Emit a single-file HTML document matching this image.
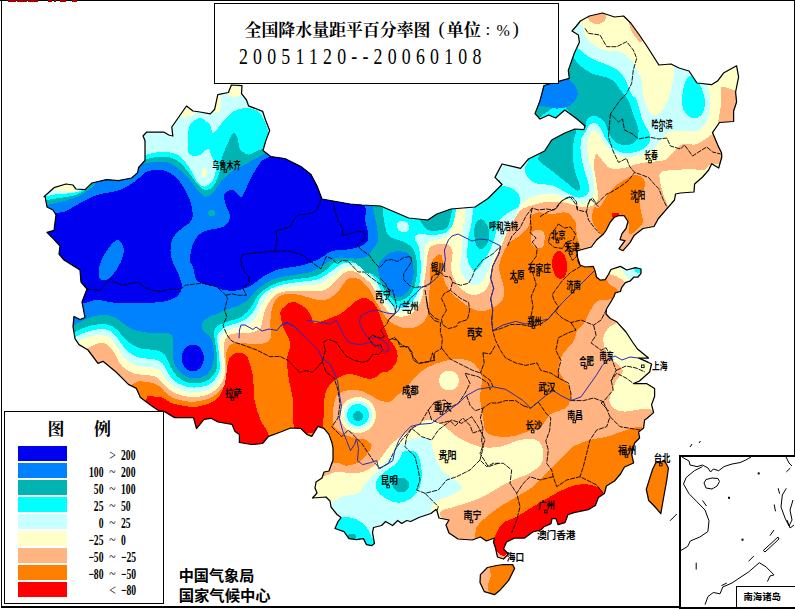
<!DOCTYPE html>
<html><head><meta charset="utf-8"><title>map</title>
<style>html,body{margin:0;padding:0;background:#fff}body{width:795px;height:610px;position:relative;overflow:hidden;font-family:"Liberation Sans",sans-serif}</style>
</head><body><svg width="795" height="610" viewBox="0 0 795 610" style="position:absolute;left:0;top:0"><defs><clipPath id="cn"><path d="M44 196.7L54 187.7L66 184L73 185L76 189L85 189.7L92 183L106.4 179.6L118.5 180.6L131.6 178L137.6 172.6L138.6 167.5L145 160.5L145 140.4L143 136L146.7 132L163.8 132L168.8 135L172.8 136L171.8 127L180.9 114L186.5 106L193 111L200 112L210.3 113.9L214.7 109.2L217.8 94.6L228.4 92.5L231.4 85L242 85.7L241.5 93.7L246.5 100L248.5 105.8L262.6 111.3L265.6 120.3L269.7 130.4L265.6 141.4L263 150.5L270.7 156.5L284.8 158.5L300.9 166.6L311 174.6L317 186L322 199L350 204L362 205L380.5 206L394.6 212L408.7 218L427.8 220L436.9 214L451 209L475 207L488 198.5L502 184.5L495 177.4L502 164L520.5 168.4L528.5 159L544.6 151L551.7 140L564.8 133L574.8 129L584 129.7L585 126L577 119L564.8 110L555.7 118L548.7 115L540 119L535 113.6L540 100.6L544 85.5L562 80.4L569.3 78.4L568.3 70.4L574.3 53.3L579.4 42.2L578.4 35L572 31L576.4 26L580.4 21L589.4 16L602.5 13L614.6 17L623.6 16L630.7 23L638.7 34L646.8 46L658.9 65L671 64L679 68L689 71L697 83L711.5 84.7L717.5 81L723.5 73L736.6 65.8L738.6 77L735.6 92L736.6 102L733.6 111L733.6 121.5L719.5 122.5L712.5 132.6L717.5 144.6L721.5 152.7L721.8 157L718.7 168L711.7 163.7L708.7 170L702.6 177L694.6 184L694 192L680.5 193L675.5 194L674.5 200L666.4 209.4L658.4 218.5L654 226.5L643 228.5L634 235.6L630 242.6L623 250.7L619 248.7L625 240.6L620 239.6L622 233.6L626 228.5L628 221.5L624 215.5L619 215.5L614 217.5L610 222.5L606 230.5L603.5 234L596.5 240L591.4 247L580.4 250L577 251L577.6 257.5L580 265L585 267L593.3 266.4L595.2 271.4L596.5 277L600.3 280.2L605.3 279.6L608.4 274.5L611 269.5L616.6 267.6L620.4 266.4L626.7 270L635.5 267.6L641 269L641 273.3L638 277L634 277L630.4 280.8L625.4 282.7L621.6 287.7L620.4 291.5L615.3 292.8L614 296.5L610.3 302.8L606.5 309L606 314L610.3 318.5L616.6 321.7L626 332L632.5 342L637.5 349L648.5 358L638.5 358L651.6 364L649.6 372L639.5 381L633.5 383.5L646.5 383.5L654.6 388.5L654.6 396.5L651.6 404.6L653.6 412.6L646.5 418.7L644.6 420L643.6 428L638.6 432L639.6 438L634.6 443L631.6 454L633.6 463L624.5 467L620.5 474L614.5 481L606.4 486L604.4 493.5L598.4 497.5L595.3 505.5L588.3 509.6L574 512.6L568 514.6L565 522.6L558 524.6L556 518.6L552 518.6L551 523.6L544 526.7L540.7 530L532.7 532L524.6 538L514.6 538L506.5 542L503.5 549L508.5 554L503.5 559L497.5 557L495.5 548L493.5 542L494.5 538L486.4 541L480.4 537L472.3 540L458 539L449 533L446 525L449 520L439 518L437 511L435.9 509.4L430.9 513.5L418.8 517.5L410.7 521.5L406.7 520.5L401.7 523.5L397.7 520.5L392.6 525.5L385.6 521.5L381.6 525.5L373.5 527.5L372.5 532.6L374.5 543.6L371.5 545.7L366.5 544.6L363.5 538.6L356.4 539.6L349 538.6L344 531.6L335 528.5L338 521.5L341 517.5L337 514.5L331 507L330 501L326 497L312.5 498L317 493L315 488L316 482L322 478L324 472L329 471L333 460L333 448L331.9 442.5L328.9 434.4L323.9 428.4L317.9 426.4L311.8 436.4L306.8 434.4L300.7 428.4L290.7 428L280.6 432L268.6 436.4L262.5 443.5L251.4 444.5L239.4 442.5L239.4 434.4L235 431.4L232 424.3L218 422L211 418.3L204 419.3L196.5 428.5L193.5 417.5L174.6 417.6L164.6 411.6L158.5 410.6L152.5 406.5L140.4 397.5L136.4 388.4L128.4 384.4L116.3 372.3L103 361.3L98 363.3L88 350L79 344.6L75 338.6L73 326.5L74 316.5L80 319.5L85 317.5L82 302L87 289L81 282L80 270L64 260L59 254L60 246L53 238.4L47 232.4L54 230.4L56 215L53 210L47 207L45 196ZM655.7 463L664.8 461L668.4 468L666.8 480L663.8 496.5L660.8 513.6L654.7 506.5L648.7 500.5L646.3 489.4L649.7 478.4L652.7 469ZM503.5 564.5L512.6 564.5L514.6 568.5L508.5 580.6L500.5 589.7L494.5 594.7L484.4 591.7L480 582.6L480.4 574.6L487.4 567.5L496.5 565.5Z"/></clipPath></defs><g clip-path="url(#cn)" shape-rendering="crispEdges"><rect x="0" y="0" width="795" height="610" fill="#ff8000"/><path fill="#ffb482" d="M120 392C138.4 390.4 127.3 387.2 130.4 385.5C133.5 383.8 135.1 382 138.4 381.5C141.8 381 147.2 381.8 150.5 382.5C153.8 383.2 156.2 384 158.5 385.5C160.8 387 162.2 389.6 164.6 391.6C166.9 393.6 169.6 396.1 172.6 397.6C175.6 399.1 178.8 399.9 182.7 400.6C186.6 401.3 190.8 402.3 195.8 401.6C200.8 400.9 207.9 399.8 212.9 396.6C217.9 393.4 223.7 387.8 226 382.5C228.3 377.2 226.5 369.6 226.5 365C226.5 360.4 225.8 357.9 226 355C226.2 352.1 226.8 349.2 228 347.3C229.2 345.4 230.1 344 233 343.3C235.9 342.6 240.6 343.1 245.2 343.3C249.8 343.5 256.3 344.8 260.3 344.3C264.3 343.8 267.6 342.2 269.3 340.3C271.1 338.4 270.6 336.1 270.8 333.2C271 330.3 270.2 326.9 270.3 323.2C270.4 319.5 270.7 314.5 271.4 311C272.1 307.5 273.1 304.4 274.4 302C275.7 299.6 277.1 297.9 279.4 296.5C281.7 295.1 284.3 294 288 293.8C291.7 293.6 297.2 294.4 301.5 295.3C305.8 296.2 309.6 298.2 313.6 299C317.6 299.8 321.9 300.7 325.7 299.8C329.5 298.9 333.5 296.1 336.2 293.8C338.9 291.5 340 288.5 342 286C344 283.5 345.7 280.3 348 279C350.3 277.7 353.5 277.5 356 278C358.5 278.5 360.7 280 363 282C365.3 284 368 287 370 290C372 293 373.2 296.7 375 300C376.8 303.3 378.8 306.7 381 310C383.2 313.3 385.5 317.4 388 320C390.5 322.6 393 323.9 396 325.3C399 326.7 403 328 406.2 328.3C409.4 328.6 412.4 328.3 415.3 327.3C418.2 326.3 421.3 324.3 423.3 322.3C425.3 320.3 426.4 318.1 427.4 315.2C428.4 312.3 429.1 308.7 429.4 305C429.7 301.3 429.3 297.2 429.4 293C429.5 288.8 429.8 284.2 430 280C430.2 275.8 429.7 271.8 430.5 268C431.3 264.2 433.1 259 435 257C436.9 255 440.7 252.7 442 256C443.3 259.3 441.7 271.2 443 277C444.3 282.8 446.8 286.8 450 291C453.2 295.2 458.2 299 462 302C465.8 305 469.3 307.5 473 309C476.7 310.5 480.2 311.5 484 311C487.8 310.5 492.8 308 496 306C499.2 304 501.7 302 503 299C504.3 296 504.3 291.7 504 288C503.7 284.3 501.8 280.5 501 277C500.2 273.5 498.8 270.5 499 267C499.2 263.5 500.6 259.7 502 256C503.4 252.3 505.7 247.7 507.5 245C509.3 242.3 511.1 241.4 513 240C514.9 238.6 517 237.9 519 236.4C521 234.9 523.3 232.9 525 231C526.7 229.1 527.9 227.5 529 225C530.1 222.5 529.9 218.1 531.4 216C532.9 213.9 535.7 213 538 212.5C540.3 212 542.5 212.8 545 213C547.5 213.2 550.3 214.1 553 214C555.7 213.9 558.5 212.8 561 212.6C563.5 212.4 566.2 212.3 568 213C569.8 213.7 570.8 215.4 572 217C573.2 218.6 574.7 219.7 575.5 222.5C576.3 225.3 575.9 229.8 576.7 234C577.5 238.2 579.5 244.9 580.5 247.7C581.5 250.5 581.4 249.6 583 251C584.6 252.4 580.5 255.3 590 256C599.5 256.7 608.3 255.2 640 255C671.7 254.8 756.7 300.8 780 255C803.3 209.2 906.7 25.8 780 -20C653.3 -65.8 146.7 -89.2 20 -20C-106.7 49.2 3.3 326.3 20 395C36.7 463.7 101.6 393.6 120 392Z"/><path fill="#ff8000" d="M594 208C592.7 210.2 591.5 216.5 592 220C592.5 223.5 595 226.3 597 229C599 231.7 601.5 236.2 604 236C606.5 235.8 609.7 231.3 612 228C614.3 224.7 615.7 217.7 618 216C620.3 214.3 624.2 216.3 626 218C627.8 219.7 628.4 223.3 629 226C629.6 228.7 628.4 233.3 629.7 234C631 234.7 634.5 232 636.7 230C638.9 228 642.1 225.3 642.8 222C643.5 218.7 641.2 214.2 640.7 210C640.2 205.8 639.3 201 640 197C640.7 193 644.5 189.2 645 186C645.5 182.8 644.7 179.8 643 178C641.3 176.2 638.2 174.7 635 175C631.8 175.3 628.2 177.3 624 180C619.8 182.7 614 186.5 610 191C606 195.5 602.7 204.2 600 207C597.3 209.8 595.3 205.8 594 208Z"/><path fill="#ffb482" d="M606 279L610.3 285.2L615.3 287.7L619 291L625 295L650 295L650 255L606 255Z"/><path fill="#ffb482" d="M625 303C615.3 302.8 614.9 299.4 612 299C609.1 298.6 609.5 300.2 607.8 300.3C606 300.4 603.6 299.3 601.5 299.7C599.4 300.1 596.9 301.2 595.2 302.8C593.5 304.4 592.6 306.9 591.4 309C590.1 311.1 588.8 313.3 587.7 315.4C586.6 317.5 586.3 319.6 585 321.7C583.7 323.8 581.3 326.4 580 328C578.7 329.6 578.2 328.7 577 331C575.8 333.3 575.3 338.2 573 342C570.7 345.8 565.4 350 563 354C560.6 358 558.7 362.3 558.5 366C558.3 369.7 559.9 372.7 561.6 376C563.3 379.3 567.1 382.7 568.6 386C570.1 389.3 570.9 392.5 570.6 396C570.3 399.5 569.9 404.2 567 407C564.1 409.8 556.2 411.3 553 413C549.8 414.7 550.2 414.7 548 417C545.8 419.3 544.2 424.3 540 427C535.8 429.7 528.5 431.3 523 433C517.5 434.7 513 437 507 437C501 437 491 436.3 487 433C483 429.7 484.2 423 483 417C481.8 411 480.2 403.7 480 397C479.8 390.3 483.2 382.7 482 377C480.8 371.3 476.7 366 473 363C469.3 360 464.7 359.3 460 359C455.3 358.7 450.3 359.7 445 361C439.7 362.3 433 364.3 428 367C423 369.7 418.8 373.2 415 377C411.2 380.8 407.7 387.2 405 390C402.3 392.8 401.5 392 398.8 394C396.1 396 392.4 401.2 388.7 402C385 402.8 380.7 400.7 376.7 399C372.7 397.3 369 393.5 364.6 392C360.2 390.5 354.9 389.7 350.5 390C346.1 390.3 341.1 392 338.4 394C335.7 396 335.3 398.5 334.4 402C333.5 405.5 333 410.9 333 415C333 419.1 332.5 423.1 334.4 426.4C336.3 429.6 340.8 432.5 344.5 434.5C348.2 436.5 353.1 437.7 356.5 438.5C359.9 439.3 362.1 438.3 364.6 439.5C367.1 440.7 371.3 443 371.6 445.5C371.9 448 368.8 451.8 366.6 454.6C364.4 457.5 361.9 460.8 358.5 462.6C355.1 464.5 350.2 465.7 346.5 465.7C342.8 465.7 339.5 462.6 336.4 462.6C333.3 462.7 334.1 463.1 328 466C321.9 468.9 304.7 464.3 300 480C295.3 495.7 271.7 546.7 300 560C328.3 573.3 440.8 563.8 470 560C499.2 556.2 473.9 542.5 475 537C476.1 531.5 474.8 530.1 476.7 526.7C478.6 523.3 482.8 520 486.7 516.7C490.6 513.4 495 510 500 506.7C505 503.4 511.2 500 516.7 496.7C522.2 493.4 528 490.6 533 486.7C538 482.8 542.2 477.4 546.7 473C551.2 468.6 555.6 464.4 560 460C564.4 455.6 568 450 573 446.7C578 443.4 584.4 441.7 590 440C595.6 438.3 600.6 438.4 606.7 436.7C612.8 435 621.2 431.7 626.7 430C632.2 428.3 634.5 427.5 640 426.7C645.5 425.9 655 446.1 660 425C665 403.9 675.8 320.3 670 300C664.2 279.7 634.7 303.2 625 303Z"/><path fill="#ffb482" d="M532.5 232C533.7 230.7 536.1 229.9 538 230C539.9 230.1 542.9 230.8 544 232.5C545.1 234.2 544.7 237.6 544.5 240C544.3 242.4 544.2 245.7 543 247C541.8 248.3 538.8 248.3 537 248C535.2 247.7 533 246.7 532 245C531 243.3 530.9 240.2 531 238C531.1 235.8 531.3 233.3 532.5 232Z"/><path fill="#ffb482" d="M476 565L489 565L491 575L488 585L489 596L476 596Z"/><path fill="#ffb482" d="M497 552L507 553L507 560L497 560Z"/><path fill="#ffffc8" d="M82 352C93.3 351.7 85 349.5 88 348C91 346.5 96.7 343.5 100 343C103.3 342.5 105.6 343.3 108 345C110.4 346.7 111.9 349.4 114.3 353C116.7 356.6 118.9 363 122.3 366.4C125.7 369.8 129.7 372 134.4 373.5C139.1 375 146.5 374.7 150.5 375.5C154.5 376.3 156.2 376.8 158.5 378.5C160.8 380.2 162.2 383.3 164.6 385.5C166.9 387.7 169.6 389.9 172.6 391.6C175.6 393.3 178.8 394.7 182.7 395.6C186.6 396.5 190.9 397.5 195.8 397C200.7 396.5 207.2 395.7 211.9 392.6C216.6 389.5 221.9 384.2 224 378.5C226.1 372.8 224.5 363.9 224.5 358.4C224.5 352.9 223.8 348.6 224 345.3C224.2 342 224.8 340.2 226 338.3C227.2 336.4 228.5 335.1 231 334.2C233.5 333.3 237.3 333.5 241 333.2C244.7 332.9 250 333 253.2 332.2C256.4 331.4 258.8 330 260.3 328.2C261.8 326.4 261.6 323.7 262.3 321.2C263 318.7 263.5 315.7 264.3 313C265.1 310.3 266 307.5 267.3 305C268.6 302.5 270.8 299.8 272.4 298C274 296.2 274.4 295.2 277 294C279.6 292.8 283.4 291.3 288 290.8C292.6 290.3 298.7 290.8 304.5 290.8C310.3 290.8 317.8 292.1 322.6 290.8C327.4 289.5 330.3 285.7 333.2 283.2C336.1 280.7 337.7 277.9 340 276C342.3 274.1 344.3 272.2 347 271.5C349.7 270.8 353.3 271.1 356 272C358.7 272.9 360.3 274.8 363 277C365.7 279.2 369.7 281.8 372 285C374.3 288.2 375.2 292.7 377 296C378.8 299.3 380.8 302.2 383 305C385.2 307.8 387.1 311.1 390 313C392.9 314.9 396.6 316.5 400.2 316.7C403.8 316.9 408.3 315.8 411.3 314C414.3 312.2 416.5 308.8 418.3 306C420.1 303.2 421.4 300.3 422.3 297C423.2 293.7 423.4 289.5 423.8 286C424.2 282.5 424.6 279.3 425 276C425.4 272.7 426 270 426.5 266C427 262 427.1 255.3 428 252C428.9 248.7 430 247.3 432 246C434 244.7 437.3 244.2 440 244C442.7 243.8 445.9 243.7 448 245C450.1 246.3 452 248.3 452.5 252C453 255.7 450.8 262.5 451 267C451.2 271.5 452.1 275.2 454 279C455.9 282.8 459.2 287.1 462.3 289.8C465.4 292.5 469.3 294.6 472.8 295C476.3 295.4 480.6 293.9 483.4 292C486.2 290.1 488.1 287 489.4 283.8C490.7 280.6 490.2 276.8 491 273C491.8 269.2 492.5 265 494 261C495.5 257 498.4 252.5 500 249C501.6 245.5 502.5 243.2 503.8 240C505.1 236.8 506.3 233.3 508 230C509.7 226.7 511.8 223.3 514 220C516.2 216.7 517.6 212.6 521 210C524.4 207.4 530 206 534.6 204.6C539.2 203.2 543.7 201.9 548.7 201.6C553.7 201.3 559.4 201.7 564.8 202.6C570.2 203.5 576.4 206.4 580.9 207C585.4 207.6 589.1 207.3 592 206C594.9 204.7 597 201.2 598 199C599 196.8 598.3 196.2 598 193C597.7 189.8 596.7 184.5 596 180C595.3 175.5 594 170.3 594 166C594 161.7 594.7 155 596 154C597.3 153 599.7 157.7 602 160C604.3 162.3 606.3 166.7 610 168C613.7 169.3 619.5 168.7 624 168C628.5 167.3 632.8 165 637 164C641.2 163 644.3 162.7 649 162C653.7 161.3 661 161.7 665 160C669 158.3 670 154.7 673 152C676 149.3 679.3 145.2 683 144C686.7 142.8 691.7 145.2 695 144.6C698.3 144 700.2 142.3 703 140.6C705.8 138.9 709.3 136.4 711.5 134.6C713.7 132.8 712.9 131.1 716 130C719.1 128.9 717.7 128.3 730 128C742.3 127.7 780 152.7 790 128C800 103.3 918.3 4.7 790 -20C661.7 -44.7 148.3 -81.7 20 -20C-108.3 41.7 9.7 288 20 350C30.3 412 70.7 352.3 82 352Z"/><path fill="#ffffc8" d="M661 172C663.7 170.2 671 170.5 676 170C681 169.5 686.3 169 691 169C695.7 169 700.5 170.8 704 170C707.5 169.2 708.5 164 712 164C715.5 164 727 164 725 170C723 176 708.3 193 700 200C691.7 207 680.3 211 675 212C669.7 213 670 209.2 668 206C666 202.8 664.3 197.2 663 193C661.7 188.8 660.3 184.5 660 181C659.7 177.5 658.3 173.8 661 172Z"/><path fill="#ffffc8" d="M622 318C618.4 318.3 620.7 320.3 618.4 322C616.1 323.7 610.8 325.3 608.3 328C605.8 330.7 603.8 334.3 603.3 338C602.8 341.7 604.1 346.7 605.3 350C606.5 353.3 607.8 355.3 610.3 358C612.8 360.7 618.4 364 620.4 366.4C622.4 368.8 623.1 370.1 622.4 372.4C621.7 374.7 618.1 377.4 616.4 380.4C614.7 383.4 613.5 387.1 612.3 390.5C611.1 393.9 609 397.6 609.3 400.6C609.6 403.6 611.8 406.8 614.3 408.6C616.8 410.4 620.4 411.4 624.4 411.6C628.4 411.8 634.5 410.1 638.5 409.6C642.5 409.1 644.9 408.5 648.5 408.6C652.1 408.7 656.4 418.1 660 410C663.6 401.9 673.3 375 670 360C666.7 345 648 327 640 320C632 313 625.6 317.7 622 318Z"/><path fill="#ffffc8" d="M324 476C330 474.7 331.7 472.5 336 472C340.3 471.5 345.5 473 350 473C354.5 473 358.8 473.3 363 472C367.2 470.7 371.7 467.8 375 465C378.3 462.2 380.3 458.4 383 455C385.7 451.6 388 447.6 391 444.5C394 441.4 397.7 439 401 436.5C404.3 434 407.6 431.9 411 429.4C414.4 426.9 417.7 423.3 421.7 421.7C425.7 420.1 430.8 418.9 435 420C439.2 421.1 442.7 425 446.7 428C450.7 431 453.4 434.9 459 438C464.6 441.1 473.2 445.2 480 446.7C486.8 448.1 493.3 447.8 500 446.7C506.7 445.6 513.9 441.1 520 440C526.1 438.9 532.9 438.3 536.7 440C540.5 441.7 542.2 446.2 543 450C543.8 453.8 543.9 459.2 541.7 463C539.5 466.8 534.8 470.2 530 473C525.2 475.8 518 477.7 513 480C508 482.3 505 483.9 500 486.7C495 489.5 488.6 494 483 496.7C477.4 499.4 472.2 501.1 466.7 503C461.2 504.9 454.4 506.5 450 508C445.6 509.5 443.3 508.3 440 512C436.7 515.7 453.3 522 430 530C406.7 538 321.7 568.3 300 560C278.3 551.7 296 494 300 480C304 466 318 477.3 324 476Z"/><path fill="#ffffc8" d="M459 380.5C459 381.8 458.7 383.1 458.2 384.3C457.8 385.5 457 386.7 456.1 387.6C455.2 388.5 454 389.3 452.8 389.7C451.6 390.2 450.3 390.5 449 390.5C447.7 390.5 446.4 390.2 445.2 389.7C444 389.3 442.8 388.5 441.9 387.6C441 386.7 440.2 385.5 439.8 384.3C439.3 383.1 439 381.8 439 380.5C439 379.2 439.3 377.9 439.8 376.7C440.2 375.5 441 374.3 441.9 373.4C442.8 372.5 444 371.7 445.2 371.3C446.4 370.8 447.7 370.5 449 370.5C450.3 370.5 451.6 370.8 452.8 371.3C454 371.7 455.2 372.5 456.1 373.4C457 374.3 457.8 375.5 458.2 376.7C458.7 377.9 459 379.2 459 380.5Z"/><path fill="#ffffc8" d="M376 415C376 417.3 375.5 419.8 374.6 421.9C373.8 424 372.4 426.1 370.7 427.7C369.1 429.4 367 430.8 364.9 431.6C362.8 432.5 360.3 433 358 433C355.7 433 353.2 432.5 351.1 431.6C349 430.8 346.9 429.4 345.3 427.7C343.6 426.1 342.2 424 341.4 421.9C340.5 419.8 340 417.3 340 415C340 412.7 340.5 410.2 341.4 408.1C342.2 406 343.6 403.9 345.3 402.3C346.9 400.6 349 399.2 351.1 398.4C353.2 397.5 355.7 397 358 397C360.3 397 362.8 397.5 364.9 398.4C367 399.2 369.1 400.6 370.7 402.3C372.4 403.9 373.8 406 374.6 408.1C375.5 410.2 376 412.7 376 415Z"/><path fill="#ffffc8" d="M609.7 274L616.6 276.4L623 280.2L626 284L632 284L645 270L645 255L608 262Z"/><path fill="#ffb482" d="M721.5 86.5L728 88L742 93L742 124L718 123L720.5 108L720.5 98Z"/><path fill="#c8ffff" d="M70 345C79.7 345.2 75 342.3 78 341C81 339.7 84.3 338 88 337C91.7 336 96.5 335 100 335C103.5 335 106.3 335.3 109 337C111.7 338.7 113.5 341.6 116 345C118.5 348.4 120.6 354 124 357.4C127.4 360.8 131.7 363.7 136.4 365.4C141.2 367.1 148.5 366.6 152.5 367.4C156.5 368.2 158.4 368.5 160.6 370.4C162.8 372.2 163.6 376 165.6 378.5C167.6 381 169.8 383.5 172.6 385.5C175.4 387.5 178.8 389.5 182.7 390.6C186.6 391.7 191.1 392.4 195.8 392C200.5 391.6 206.7 391.2 210.9 388.5C215.1 385.8 219.2 380.9 221 375.5C222.8 370.1 221.8 361.8 221.5 356.4C221.2 351 219.4 346.8 219.5 343.3C219.6 339.8 220.6 337.5 222 335.3C223.4 333.1 225.3 331.6 228 330.2C230.7 328.8 234.6 328.2 238 327.2C241.4 326.2 245.3 325.7 248.2 324.2C251.1 322.7 253.5 320.4 255.3 318C257.2 315.6 258 312.7 259.3 310C260.6 307.3 261.8 304.5 263.3 302C264.8 299.5 266.4 297 268.3 295C270.2 293 272 291.3 275 290C278 288.7 281.7 287.8 286.4 287C291.1 286.2 297.5 286 303 285.5C308.5 285 314.8 285.5 319.6 284C324.4 282.5 328.3 278.7 331.7 276.4C335.1 274.1 337.6 272 340 270.4C342.4 268.8 343.3 267.4 346 267C348.7 266.6 353 266.8 356 268C359 269.2 361 271.5 364 274C367 276.5 371.5 279.8 374 283C376.5 286.2 377.2 289.8 379 293C380.8 296.2 382.8 299.2 385 302C387.2 304.8 389.3 308.2 392 310C394.7 311.8 398.1 313 401.2 313C404.2 313 407.8 311.7 410.3 310C412.8 308.3 414.6 305.5 416.3 303C418 300.5 419.4 298 420.3 295C421.2 292 421.4 288.5 421.8 285C422.2 281.5 422.6 278.2 423 274C423.4 269.8 423.7 264.3 424 260C424.3 255.7 423.9 251 424.6 248C425.3 245 425.8 243.4 428 242C430.2 240.6 434.7 240.5 438 239.5C441.3 238.5 445.8 237.9 448 236C450.2 234.1 449.8 231 451 228C452.2 225 454 221.3 455 218C456 214.7 456.7 211.8 457 208C457.3 204.2 478.2 199.7 457 195C435.8 190.3 356.2 202.5 330 180C303.8 157.5 351.7 93.3 300 60C248.3 26.7 66.7 -66.7 20 -20C-26.7 26.7 11.7 279.2 20 340C28.3 400.8 60.3 344.8 70 345Z"/><path fill="#c8ffff" d="M465.2 205C465 245 464.4 215.8 464 220C463.6 224.2 463.3 225 463 230C462.7 235 462.3 245.2 462 250C461.7 254.8 461.3 255.9 461 259C460.7 262.1 459.3 265.3 460 268.7C460.7 272.1 463.2 276.4 465.3 279.2C467.4 282 470.3 284.7 472.8 285.3C475.3 285.9 478.1 284.8 480.4 283C482.7 281.2 484.6 278.1 486.4 274.7C488.2 271.3 489.5 266.4 491 262.6C492.5 258.8 494 255 495.5 252C497 249 498.2 247.8 500 244.5C501.8 241.2 504 235.8 506 232C508 228.2 510.2 224.9 512 222C513.8 219.1 515.1 217.5 516.5 214.6C517.9 211.7 518.5 207.3 520.5 204.6C522.5 201.9 525.1 200.2 528.5 198.5C531.9 196.8 535.9 195.2 540.6 194.5C545.3 193.8 552.5 193.8 556.7 194.5C560.9 195.2 562.1 197.2 566 198.6C569.9 199.9 575.8 202.6 580 202.6C584.2 202.6 588.9 201.3 591.3 198.6C593.7 195.9 594.1 190.9 594.3 186.5C594.5 182.1 593.3 177.2 592.3 172.4C591.3 167.7 589.1 162.9 588.3 158C587.5 153.1 587.1 146.8 587.3 143C587.5 139.2 588.3 137.2 589.3 135C590.3 132.8 591.8 130.3 593.3 130C594.8 129.7 596.7 131 598.4 133C600.1 135 601 138.8 603.4 142C605.8 145.2 609 149.5 612.5 152C616 154.5 619.8 156.5 624.5 157C629.2 157.5 635.9 156.2 640.6 155C645.3 153.8 649.4 152.5 652.7 150C656.1 147.5 658 143 660.7 140C663.4 137 665.1 133.6 668.8 132C672.5 130.4 678.3 130.7 683 130.5C687.7 130.3 693.2 132.2 697 131C700.8 129.8 703.8 126.8 706 123C708.2 119.2 709.4 112.8 710 108C710.6 103.2 710 98 709.5 94C709 90 708.1 86.7 707 84C705.9 81.3 700.8 82 703 78C705.2 74 720.5 76.3 720 60C719.5 43.7 742.5 -6.7 700 -20C657.5 -33.3 504.1 -57.5 465 -20C425.9 17.5 465.4 165 465.2 205Z"/><path fill="#ffffc8" d="M578 18C575.1 21.4 581.6 23.2 582.6 25.7C583.6 28.2 583.2 31 584 33.2C584.8 35.5 585.4 37.2 587.2 39.2C589 41.2 592.2 43.5 594.7 45.3C597.2 47.1 599.5 48.8 602.3 49.8C605.1 50.8 608.3 50.9 611.3 51.3C614.3 51.7 617.6 51 620.4 52C623.2 53 625.7 55.5 628 57.4C630.3 59.3 632.4 60.9 634 63.4C635.6 65.9 636.6 70.2 637.7 72.5C638.8 74.8 640 74.1 640.8 77C641.6 79.9 641.9 86.2 642.5 90C643.1 93.8 643.5 96.7 644.5 100C645.5 103.3 646.7 107.4 648.3 110C649.9 112.6 652.3 115.3 654.3 115.8C656.3 116.3 658.4 114.8 660.4 112.8C662.4 110.8 664.6 107.6 666.4 103.8C668.2 100 669.7 94.8 671 90C672.3 85.2 673.2 79.3 674 75C674.8 70.7 672.8 68.2 675.5 64C678.2 59.8 695.9 59.8 690 50C684.1 40.2 655 12.5 640 5C625 -2.5 610.3 2.8 600 5C589.7 7.2 580.9 14.6 578 18Z"/><path fill="#ffb482" d="M606 17C606 17.9 605.8 18.9 605.3 19.7C604.9 20.5 604.2 21.3 603.4 21.9C602.6 22.6 601.5 23.1 600.4 23.5C599.4 23.8 598.1 24 597 24C595.9 24 594.6 23.8 593.6 23.5C592.5 23.1 591.4 22.6 590.6 21.9C589.8 21.3 589.1 20.5 588.7 19.7C588.2 18.9 588 17.9 588 17C588 16.1 588.2 15.1 588.7 14.3C589.1 13.5 589.8 12.7 590.6 12.1C591.4 11.4 592.5 10.9 593.6 10.5C594.6 10.2 595.9 10 597 10C598.1 10 599.4 10.2 600.4 10.5C601.5 10.9 602.6 11.4 603.4 12.1C604.2 12.7 604.9 13.5 605.3 14.3C605.8 15.1 606 16.1 606 17Z"/><path fill="#ffb482" d="M629 22C629.4 21 632.3 23.3 634 25C635.7 26.7 637.5 29.5 639 32C640.5 34.5 642.8 38.3 643 40C643.2 41.7 641.2 42.5 640 42C638.8 41.5 636.9 38.8 635.5 37C634.1 35.2 632.6 33.5 631.5 31C630.4 28.5 628.6 23 629 22Z"/><path fill="#c8ffff" d="M331.7 503C334.5 501.6 337.3 498.4 341.7 496.7C346.1 495 353.6 495.8 358 493C362.4 490.2 364.9 483.4 368 480C371.1 476.6 373.9 475.6 376.7 472.7C379.5 469.8 382 466 384.7 462.6C387.4 459.2 390.1 455.6 392.8 452.6C395.5 449.6 397.8 446.7 400.8 444.5C403.8 442.3 407.2 440.7 410.9 439.5C414.6 438.3 419.8 437.4 423 437.5C426.2 437.6 428 436.8 430 440C432 443.2 433.1 451.7 435 456.7C436.9 461.7 438.4 466.1 441.7 470C445 473.9 451.7 477 455 480C458.3 483 462.2 485.5 461.7 488C461.1 490.5 455.6 493 451.7 495C447.8 497 441.3 498.1 438 500C434.7 501.9 433 504.2 431.7 506.7C430.4 509.2 431.9 511.1 430 515C428.1 518.9 428.3 523.8 420 530C411.7 536.2 395 550.3 380 552C365 553.7 339.2 547.8 330 540C320.8 532.2 324.7 511.2 325 505C325.3 498.8 328.9 504.4 331.7 503Z"/><path fill="#c8ffff" d="M372.5 415C372.5 416.8 372.1 418.8 371.4 420.5C370.7 422.3 369.6 423.9 368.3 425.3C366.9 426.6 365.3 427.7 363.5 428.4C361.8 429.1 359.8 429.5 358 429.5C356.2 429.5 354.2 429.1 352.5 428.4C350.7 427.7 349.1 426.6 347.7 425.3C346.4 423.9 345.3 422.3 344.6 420.5C343.9 418.8 343.5 416.8 343.5 415C343.5 413.2 343.9 411.2 344.6 409.5C345.3 407.7 346.4 406.1 347.7 404.7C349.1 403.4 350.7 402.3 352.5 401.6C354.2 400.9 356.2 400.5 358 400.5C359.8 400.5 361.8 400.9 363.5 401.6C365.3 402.3 366.9 403.4 368.3 404.7C369.6 406.1 370.7 407.7 371.4 409.5C372.1 411.2 372.5 413.2 372.5 415Z"/><path fill="#c8ffff" d="M620.4 266L624 274L628.6 277.7L631 281L645 281L645 260Z"/><path fill="#ffffc8" d="M226 84C228.7 82.2 241.2 82.7 244 84C246.8 85.3 244.2 89.8 243 92C241.8 94.2 239.5 96.5 237 97C234.5 97.5 229.8 97.2 228 95C226.2 92.8 223.3 85.8 226 84Z"/><path fill="#ffffc8" d="M214 96C215.2 93.3 220 93.7 221 96C222 98.3 221.2 107.3 220 110C218.8 112.7 215 114.3 214 112C213 109.7 212.8 98.7 214 96Z"/><path fill="#ffffc8" d="M180 106C181.5 103.8 187.3 103 190 104C192.7 105 196.3 109.8 196 112C195.7 114.2 190.5 116.2 188 117C185.5 117.8 182.3 118.8 181 117C179.7 115.2 178.5 108.2 180 106Z"/><path fill="#ffffc8" d="M206.8 172.6C206.8 173.2 206.7 173.9 206.6 174.5C206.5 175.1 206.3 175.7 206.1 176.1C205.8 176.6 205.6 177 205.3 177.2C205 177.5 204.6 177.6 204.3 177.6C204 177.6 203.6 177.5 203.3 177.2C203 177 202.8 176.6 202.5 176.1C202.3 175.7 202.1 175.1 202 174.5C201.9 173.9 201.8 173.2 201.8 172.6C201.8 172 201.9 171.3 202 170.7C202.1 170.1 202.3 169.5 202.5 169.1C202.8 168.6 203 168.2 203.3 168C203.6 167.7 204 167.6 204.3 167.6C204.6 167.6 205 167.7 205.3 168C205.6 168.2 205.8 168.6 206.1 169.1C206.3 169.5 206.5 170.1 206.6 170.7C206.7 171.3 206.8 172 206.8 172.6Z"/><path fill="#ffffc8" d="M53 187C54.8 185.8 62.2 182.8 66 183C69.8 183.2 74.7 186.5 76 188C77.3 189.5 76.3 191.5 74 192C71.7 192.5 65.2 191.3 62 191C58.8 190.7 56.5 190.7 55 190C53.5 189.3 51.2 188.2 53 187Z"/><path fill="#00ffff" d="M68 340C74.7 340.3 72 338.3 75 337C78 335.7 81.8 333.3 86 332C90.2 330.7 96 329.2 100 329C104 328.8 107 329.3 110 331C113 332.7 115.3 335.8 118 339C120.7 342.2 123 347.2 126.4 350.3C129.8 353.4 133.7 355.9 138.4 357.4C143.1 358.9 150.5 358.4 154.5 359.4C158.5 360.4 160.6 361.6 162.6 363.4C164.6 365.2 164.9 367.7 166.6 370.4C168.3 373.1 169.9 377 172.6 379.5C175.3 382 179 384.2 182.7 385.5C186.4 386.8 190.4 387.7 194.8 387.5C199.2 387.3 204.9 387 208.9 384.5C212.9 382 217.2 377.4 218.9 372.4C220.6 367.4 219.3 360.1 219 354.3C218.7 348.5 216.7 341.3 217 337.3C217.3 333.3 219.3 332.1 221 330.2C222.7 328.3 224.3 327.4 227 326.2C229.7 325 233.8 324.4 237 323.2C240.2 322 243.5 320.9 246.2 319C248.9 317.1 251.3 314.5 253.2 312C255 309.5 255.8 306.8 257.3 304C258.8 301.2 260 297.6 262.3 295C264.6 292.4 267.5 290.3 271.3 288.5C275.1 286.7 280 285.1 285 284C290 282.9 296 282.5 301.5 281.7C307 280.9 313.2 281 318 279.4C322.8 277.8 326.5 274.3 330.2 271.9C333.9 269.5 337.4 266.5 340 265C342.6 263.5 343 263.2 346 263C349 262.8 354.5 262.7 358 264C361.5 265.3 364 268.3 367 271C370 273.7 373.7 276.8 376 280C378.3 283.2 379.2 286.8 381 290C382.8 293.2 384.8 296.3 387 299C389.2 301.7 391.6 304.5 394 306C396.4 307.5 398.8 308.2 401.2 308C403.6 307.8 406.2 306.3 408.2 305C410.2 303.7 411.8 302 413.3 300C414.8 298 416.3 295.7 417.3 293C418.3 290.3 418.8 287.2 419.3 284C419.8 280.8 420.3 278 420.5 274C420.7 270 420.8 264.7 420.5 260C420.2 255.3 419.5 249.7 418.5 246C417.5 242.3 414.2 240 414.5 238C414.8 236 417.1 234.5 420 234C422.9 233.5 427.5 235.2 431.7 235C435.9 234.8 441.6 234.5 445 233C448.4 231.5 450.3 228.8 452 226C453.7 223.2 454.3 219.3 455 216C455.7 212.7 455.7 209.5 456 206C456.3 202.5 469.7 196.8 457 195C444.3 193.2 401.2 197.5 380 195C358.8 192.5 341.7 185.8 330 180C318.3 174.2 319.2 165 310 160C300.8 155 282 155 275 150C268 145 270.5 136.2 268 130C265.5 123.8 263.6 116.7 260 113C256.4 109.3 251.2 108.2 246.7 108C242.2 107.8 236.9 109.4 233 111.7C229.1 114 226.3 118.2 223 121.7C219.7 125.2 215.2 132.4 213 133C210.8 133.6 212.2 127.5 210 125C207.8 122.5 203.3 118 200 118C196.7 118 192 121.9 190 125C188 128.1 188.3 132.9 188 136.7C187.7 140.5 187.7 144.9 188 148C188.3 151.1 188 153.8 190 155C192 156.2 197 156 200 155C203 154 206 148.7 208 149C210 149.3 210.7 153.8 212 157C213.3 160.2 215.8 164.2 216 168C216.2 171.8 214.8 176.9 213 180C211.2 183.1 207.5 186 205 186.5C202.5 187 200.2 185.4 198 183C195.8 180.6 194 175.3 192 172C190 168.7 188.3 165.8 186 163C183.7 160.2 181.8 156.9 178 155C174.2 153.1 168.5 151.7 163 151.7C157.5 151.7 149.7 153.9 145 155C140.3 156.1 136.7 156.3 135 158C133.3 159.7 136.2 162.7 135 165C133.8 167.3 133.8 170.2 128 172C122.2 173.8 105.5 175 100 176C94.5 177 98 175.7 95 178C92 180.3 86.1 187.5 82.3 190C78.5 192.5 75.7 192.3 72 193C68.3 193.7 63.8 193.5 60 194C56.2 194.5 53.2 194.2 49 196C44.8 197.8 37.3 181.8 35 205C32.7 228.2 29.5 312.5 35 335C40.5 357.5 61.3 339.7 68 340Z"/><path fill="#00ffff" d="M474 205C472.7 210 472.7 215.8 472 220C471.3 224.2 470.7 226.7 470 230C469.3 233.3 468.4 235.3 468 240C467.6 244.7 467.1 253.5 467.5 258C467.9 262.5 469.4 264.8 470.6 267C471.9 269.2 473.4 271.2 475 271C476.6 270.8 478.5 268.1 480.4 265.7C482.3 263.3 484.6 259.6 486.4 256.6C488.2 253.6 489.7 250.3 491 247.5C492.3 244.7 493.1 242.9 494 240C494.9 237.1 495.5 233.3 496.4 230C497.3 226.7 497.4 222.9 499.4 220C501.4 217.1 505.2 214.8 508.4 212.6C511.6 210.4 516.6 209.3 518.5 206.6C520.4 203.9 520.5 199.5 519.5 196.5C518.5 193.5 515.4 190.3 512.5 188.5C509.6 186.7 504.8 186.9 502.4 185.5C500 184.1 501.7 179.2 498 180C494.3 180.8 484 185.8 480 190C476 194.2 475.3 200 474 205Z"/><path fill="#00ffff" d="M528.5 159.3C529.2 162.4 524.5 165.2 524.5 168.4C524.5 171.6 526.5 175.9 528.5 178.4C530.5 180.9 532.6 182.3 536.6 183.5C540.6 184.7 547.8 184 552.7 185.5C557.6 187 561.8 190.6 566 192.6C570.2 194.6 574.5 197.3 578 197.6C581.5 197.9 585.2 196.4 587 194.6C588.8 192.8 589.3 190.2 589 186.5C588.7 182.8 586.3 177.5 585 172.4C583.7 167.3 581.7 161.4 581 156C580.3 150.6 580.3 144 581 140C581.7 136 583.9 134.5 585.3 132C586.7 129.5 587.6 126.5 589.3 125C591 123.5 593.4 122.5 595.3 123C597.1 123.5 598.5 125.2 600.4 128C602.2 130.8 604 136.5 606.4 140C608.8 143.5 611.5 146.8 614.5 149C617.5 151.2 620.5 152.7 624.5 153C628.5 153.3 634.6 152.5 638.6 151C642.6 149.5 646.9 146.8 648.7 144C650.6 141.2 650.7 138 649.7 134C648.7 130 644.8 125.7 642.6 120C640.4 114.3 638.2 103.9 636.6 100C635 96.1 634.2 98.4 633 96.7C631.8 95 630.5 92.5 629.4 90C628.3 87.5 627.9 84.4 626.4 81.5C624.9 78.6 622.9 75 620.4 72.5C617.9 70 614.8 68.2 611.3 66.4C607.8 64.6 603.2 63.7 599.2 61.9C595.2 60.1 591 58.3 587.2 55.8C583.4 53.3 579.5 49.1 576.6 46.8C573.7 44.5 572.8 44.8 570 42C567.2 39.2 566.7 20.3 560 30C553.3 39.7 536.7 80 530 100C523.3 120 520.2 140.1 520 150C519.8 159.9 527.8 156.2 528.5 159.3Z"/><path fill="#00ffff" d="M690 76C691.8 76 694.8 77.3 697 80C699.2 82.7 701.7 88 703 92C704.3 96 705.2 100.3 705 104C704.8 107.7 703.8 111.6 702 114C700.2 116.4 696.7 118.5 694 118.5C691.3 118.5 688 116.4 686 114C684 111.6 682.5 108 682 104C681.5 100 682.3 94 683 90C683.7 86 684.8 82.3 686 80C687.2 77.7 688.2 76 690 76Z"/><path fill="#00ffff" d="M403 451.7C405.2 451.1 412.2 450.3 415 451.7C417.8 453.1 418.9 456.4 420 460C421.1 463.6 421.7 468.6 421.7 473C421.7 477.4 421.7 482.5 420 486.7C418.3 490.9 415.4 495.3 411.7 498C408 500.7 402.4 502.7 398 502.7C393.6 502.7 388.6 500.1 385 498C381.4 495.9 378.1 493 376.7 490C375.3 487 375.3 483.1 376.7 480C378.1 476.9 381.7 474.5 385 471.7C388.3 468.9 393.9 465.8 396.7 463C399.5 460.2 400.6 456.9 401.7 455C402.8 453.1 400.8 452.2 403 451.7Z"/><path fill="#00ffff" d="M335 527C336.6 522.1 336.7 520.1 339.3 518.5C341.9 516.9 346.9 517 350.4 517.5C353.9 518 357.5 519.7 360.4 521.5C363.2 523.3 365.6 526 367.5 528.5C369.4 531 370.1 533.4 371.5 536.6C372.9 539.9 382.9 546.1 376 548C369.1 549.9 336.8 551.5 330 548C323.2 544.5 333.4 531.9 335 527Z"/><path fill="#00ffff" d="M369 415C369 416.4 368.7 417.9 368.2 419.2C367.6 420.5 366.8 421.8 365.8 422.8C364.8 423.8 363.5 424.6 362.2 425.2C360.9 425.7 359.4 426 358 426C356.6 426 355.1 425.7 353.8 425.2C352.5 424.6 351.2 423.8 350.2 422.8C349.2 421.8 348.4 420.5 347.8 419.2C347.3 417.9 347 416.4 347 415C347 413.6 347.3 412.1 347.8 410.8C348.4 409.5 349.2 408.2 350.2 407.2C351.2 406.2 352.5 405.4 353.8 404.8C355.1 404.3 356.6 404 358 404C359.4 404 360.9 404.3 362.2 404.8C363.5 405.4 364.8 406.2 365.8 407.2C366.8 408.2 367.6 409.5 368.2 410.8C368.7 412.1 369 413.6 369 415Z"/><path fill="#00ffff" d="M632.3 267L635.5 272L639.2 273.3L645 274L645 262Z"/><path fill="#c8ffff" d="M408.6 229.8C408.3 230.4 407.7 230.9 407.1 231.3C406.5 231.7 405.8 232 405 232.2C404.3 232.3 403.4 232.3 402.6 232.1C401.8 232 401 231.7 400.2 231.3C399.5 230.8 398.8 230.3 398.3 229.7C397.8 229 397.3 228.3 397.1 227.6C396.8 226.8 396.7 226 396.7 225.3C396.8 224.6 397 223.9 397.4 223.2C397.7 222.6 398.3 222.1 398.9 221.7C399.5 221.3 400.2 221 401 220.8C401.7 220.7 402.6 220.7 403.4 220.9C404.2 221 405 221.3 405.8 221.7C406.5 222.2 407.2 222.7 407.7 223.3C408.2 224 408.7 224.7 408.9 225.4C409.2 226.2 409.3 227 409.3 227.7C409.2 228.4 409 229.1 408.6 229.8Z"/><path fill="#00b4b4" d="M68 335C74.7 336.2 72 333.3 75 332C78 330.7 81.8 328.3 86 327C90.2 325.7 95.7 324.2 100 324C104.3 323.8 108.7 324.5 112 326C115.3 327.5 117.3 330.3 120 333C122.7 335.7 125 339.4 128.4 342C131.8 344.6 135.7 346.9 140.4 348.3C145.1 349.7 152.5 349.3 156.5 350.3C160.5 351.3 162.6 352.3 164.6 354.3C166.6 356.3 167.3 359.7 168.6 362.4C169.9 365.1 170.6 367.5 172.6 370.4C174.6 373.2 177 377.3 180.7 379.5C184.4 381.7 190.1 383.5 194.8 383.5C199.5 383.5 205.2 382 208.9 379.5C212.6 377 215.6 372.9 216.9 368.4C218.2 363.9 216.9 357.4 216.5 352.3C216.1 347.2 214.8 342 214.5 338C214.2 334 213.9 330.5 215 328.2C216.1 325.9 218.7 325.4 221 324.2C223.3 323 226 322.2 229 321.2C232 320.2 236.2 319.5 239.2 318C242.2 316.5 244.9 314.3 247.2 312C249.5 309.7 251.3 306.8 253.2 304C255 301.2 255.5 298 258.3 295C261.1 292 265.6 288.5 269.8 286.2C274 283.9 278.4 282.2 283.4 281C288.4 279.8 294.5 279.6 300 278.7C305.5 277.8 311.8 277.5 316.6 275.7C321.4 273.9 325.8 270.1 328.7 268C331.6 265.9 331.6 264.2 334 263C336.4 261.8 340.1 260.8 343.2 260.6C346.2 260.4 349.4 260.5 352.3 261.6C355.2 262.7 358 265.1 360.3 267C362.6 268.9 364.4 271.8 366.4 273C368.4 274.2 370.3 272.8 372.4 274C374.5 275.2 377.1 277.5 379 280C380.9 282.5 382.2 286.2 384 289C385.8 291.8 388 295 390 297C392 299 394 300.5 396 301C398 301.5 400 300.8 402.2 300C404.4 299.2 407.3 297.7 409.2 296C411.1 294.3 412.3 292.2 413.3 290C414.3 287.8 414.7 285.7 415.3 283C415.9 280.3 416.8 277.8 417 274C417.2 270.2 417.2 264.3 416.5 260C415.8 255.7 414.9 251.2 412.5 248C410.1 244.8 405.4 242.7 402 241C398.6 239.3 394.6 239.5 392 238C389.4 236.5 387.8 235 386.5 232C385.2 229 384.7 224 384 220C383.3 216 383 212.2 382.5 208C382 203.8 389.8 199.7 381 195C372.2 190.3 341.8 185.8 330 180C318.2 174.2 319.2 165 310 160C300.8 155 282 152.2 275 150C268 147.8 270 147.2 268 147C266 146.8 264.9 148.3 263 149C261.1 149.7 259 150.1 256.6 151C254.2 151.9 251.3 154.8 248.5 154.5C245.7 154.2 241.8 151.8 240 149C238.2 146.2 238.7 140.7 237.5 138C236.3 135.3 234.8 131.6 233 133C231.2 134.4 228.2 142.6 226.4 146.5C224.6 150.4 223.3 153.2 222.4 156.5C221.5 159.8 221.7 162.6 221 166C220.3 169.4 219.3 173.2 218 176.7C216.7 180.1 215.2 184.5 213 186.7C210.8 188.9 207.7 190.6 205 190C202.3 189.4 199.8 186.3 196.7 183C193.6 179.7 190 173.8 186.7 170C183.4 166.2 180.6 162.2 176.7 160C172.8 157.8 168.3 156.7 163 156.7C157.7 156.7 149.7 157.8 145 160C140.3 162.2 142.5 167 135 170C127.5 173 107.8 175 100 178C92.2 181 91.7 185.5 88.4 188C85.1 190.5 83 191.7 80.3 193C77.6 194.3 75.4 195.2 72 196C68.6 196.8 64.2 197.3 60 198C55.8 198.7 51.2 198.8 47 200C42.8 201.2 37 184.2 35 205C33 225.8 29.5 303.3 35 325C40.5 346.7 61.3 333.8 68 335Z"/><path fill="#00b4b4" d="M416 212C416.3 215 419.7 220 421.7 223C423.7 226 424.7 228.8 428 230C431.3 231.2 438.4 230.7 441.7 230C445 229.3 446.4 228.5 448 226C449.6 223.5 450.7 218.5 451 215C451.3 211.5 455.2 206.7 450 205C444.8 203.3 425.7 203.8 420 205C414.3 206.2 415.7 209 416 212Z"/><path fill="#00b4b4" d="M481 219C483 219 485.6 222.3 487 225C488.4 227.7 489.4 231.8 489.4 235C489.4 238.2 488.4 241.6 487 244C485.6 246.4 482.8 249.1 481 249.3C479.2 249.5 477.1 247.4 476 245C474.9 242.6 474.5 238.3 474.3 235C474.1 231.7 473.9 227.7 475 225C476.1 222.3 479 219 481 219Z"/><path fill="#00b4b4" d="M551.7 140C556.7 137.3 571.1 129 574.8 129C578.5 129 574.1 135.8 573.8 140C573.5 144.2 572.6 148.9 572.8 154C573 159.1 573.6 165 574.8 170.4C576 175.8 579.6 183.2 580 186.5C580.4 189.8 578.8 190.8 576.9 190.5C575 190.2 571.8 186.8 568.8 184.5C565.8 182.2 562.1 179.1 558.7 176.4C555.4 173.7 552.1 171.1 548.7 168.4C545.4 165.7 540 162.8 538.6 160.3C537.2 157.8 539.5 155.9 540.6 153.3C541.7 150.8 543.1 147.2 545 145C546.9 142.8 546.7 142.7 551.7 140Z"/><path fill="#00b4b4" d="M570 50C571.4 52.1 571.8 54.7 573.6 57.4C575.4 60.1 577.7 63.6 581 66.4C584.3 69.2 589.2 72.2 593.2 74C597.2 75.8 601.8 75.8 605.3 77C608.8 78.2 611.8 79.3 614.3 81.5C616.8 83.7 618.1 86.9 620.4 90C622.7 93.1 625.6 95.3 628 100C630.4 104.7 632.8 113 634.6 118C636.4 123 638.3 126.3 638.6 130C638.9 133.7 638.3 137.5 636.6 140C634.9 142.5 631.9 144.5 628.5 145C625.1 145.5 619.7 144.8 616.5 143C613.3 141.2 611.4 137.5 609.4 134C607.4 130.5 606.2 124.8 604.4 122C602.6 119.2 600.4 118 598.4 117C596.4 116 594.2 115.5 592.3 116C590.4 116.5 588.4 118 587 120C585.6 122 586 128 584 128C582 128 579 123.8 575 120C571 116.2 567.5 105 560 105C552.5 105 535 124.2 530 120C525 115.8 524.2 92.5 530 80C535.8 67.5 558.3 50 565 45C571.7 40 568.6 47.9 570 50Z"/><path fill="#00b4b4" d="M409 485C409 486 408.8 487 408.4 487.9C408 488.8 407.4 489.6 406.7 490.3C405.9 491 405 491.6 404.1 491.9C403.1 492.3 402 492.5 401 492.5C400 492.5 398.9 492.3 397.9 491.9C397 491.6 396.1 491 395.3 490.3C394.6 489.6 394 488.8 393.6 487.9C393.2 487 393 486 393 485C393 484 393.2 483 393.6 482.1C394 481.2 394.6 480.4 395.3 479.7C396.1 479 397 478.4 397.9 478.1C398.9 477.7 400 477.5 401 477.5C402 477.5 403.1 477.7 404.1 478.1C405 478.4 405.9 479 406.7 479.7C407.4 480.4 408 481.2 408.4 482.1C408.8 483 409 484 409 485Z"/><path fill="#00b4b4" d="M356.5 536.5C356.5 536.9 356.4 537.3 356.2 537.6C355.9 538 355.6 538.4 355.2 538.6C354.8 538.9 354.3 539.1 353.7 539.3C353.2 539.4 352.6 539.5 352 539.5C351.4 539.5 350.8 539.4 350.3 539.3C349.7 539.1 349.2 538.9 348.8 538.6C348.4 538.4 348.1 538 347.8 537.6C347.6 537.3 347.5 536.9 347.5 536.5C347.5 536.1 347.6 535.7 347.8 535.4C348.1 535 348.4 534.6 348.8 534.4C349.2 534.1 349.7 533.9 350.3 533.7C350.8 533.6 351.4 533.5 352 533.5C352.6 533.5 353.2 533.6 353.7 533.7C354.3 533.9 354.8 534.1 355.2 534.4C355.6 534.6 355.9 535 356.2 535.4C356.4 535.7 356.5 536.1 356.5 536.5Z"/><path fill="#00b4b4" d="M363 416C363 416.6 362.9 417.3 362.6 417.9C362.4 418.5 362 419.1 361.5 419.5C361.1 420 360.5 420.4 359.9 420.6C359.3 420.9 358.6 421 358 421C357.4 421 356.7 420.9 356.1 420.6C355.5 420.4 354.9 420 354.5 419.5C354 419.1 353.6 418.5 353.4 417.9C353.1 417.3 353 416.6 353 416C353 415.4 353.1 414.7 353.4 414.1C353.6 413.5 354 412.9 354.5 412.5C354.9 412 355.5 411.6 356.1 411.4C356.7 411.1 357.4 411 358 411C358.6 411 359.3 411.1 359.9 411.4C360.5 411.6 361.1 412 361.5 412.5C362 412.9 362.4 413.5 362.6 414.1C362.9 414.7 363 415.4 363 416Z"/><path fill="#00b4b4" d="M215.2 213C215.2 213.4 215.1 213.9 214.9 214.3C214.8 214.8 214.5 215.2 214.2 215.5C213.9 215.8 213.5 216.1 213 216.2C212.6 216.4 212.1 216.5 211.7 216.5C211.3 216.5 210.8 216.4 210.4 216.2C209.9 216.1 209.5 215.8 209.2 215.5C208.9 215.2 208.6 214.8 208.5 214.3C208.3 213.9 208.2 213.4 208.2 213C208.2 212.6 208.3 212.1 208.5 211.7C208.6 211.2 208.9 210.8 209.2 210.5C209.5 210.2 209.9 209.9 210.4 209.8C210.8 209.6 211.3 209.5 211.7 209.5C212.1 209.5 212.6 209.6 213 209.8C213.5 209.9 213.9 210.2 214.2 210.5C214.5 210.8 214.8 211.2 214.9 211.7C215.1 212.1 215.2 212.6 215.2 213Z"/><path fill="#0082ff" d="M68 326C74.3 327.3 73 325.2 76 324C79 322.8 82 320.5 86 319C90 317.5 95.3 315.3 100 315C104.7 314.7 110.2 315.5 114.3 317C118.3 318.5 120.9 321.8 124.3 324C127.7 326.2 130 328.5 134.4 330C138.8 331.5 145.1 332.5 150.5 333C155.9 333.5 162.9 332.3 166.6 333C170.3 333.7 171.6 333.8 172.6 337C173.6 340.2 172.3 347.7 172.6 352.3C172.9 356.9 172.9 360.7 174.6 364.4C176.3 368.1 179.3 372.1 182.7 374.5C186.1 376.9 190.8 378.5 194.8 378.5C198.8 378.5 203.8 376.9 206.8 374.5C209.8 372.1 211.7 368.4 212.9 364.4C214.1 360.4 214.2 354.7 213.9 350.3C213.6 345.9 212.8 341.4 210.9 338C209.1 334.6 204.2 332.7 202.8 330C201.5 327.3 201.5 324.3 202.8 322C204.2 319.7 208.9 317.2 210.9 316C212.9 314.8 212.7 316 215 315C217.3 314 221.7 311.3 225 310C228.3 308.7 231.6 308.3 235 307C238.4 305.7 242.3 304 245.2 302C248.1 300 250.1 297.1 252.2 295C254.3 292.9 255 291.4 257.7 289.2C260.4 287 264.5 283.7 268.3 281.7C272.1 279.7 275.4 278.4 280.4 277.2C285.4 275.9 293 275.2 298.5 274.2C304 273.2 309.1 272.8 313.6 271C318.1 269.2 322.5 265.6 325.7 263.6C328.9 261.6 330.1 260 333 259C335.9 258 339.5 257.7 343.2 257.6C346.9 257.5 351.4 258.7 355.3 258.6C359.2 258.5 363.5 258.4 366.4 257C369.2 255.6 370.5 252.8 372.4 250C374.3 247.2 377.3 244.2 378 240C378.7 235.8 377.3 230.3 376.5 225C375.7 219.7 374.1 213 373 208C371.9 203 377.2 198.8 370 195C362.8 191.2 339.2 190 330 185C320.8 180 324.2 170.8 315 165C305.8 159.2 282.8 152.2 275 150C267.2 147.8 271.1 150.7 268 152C264.9 153.3 260.4 156 256.7 158C253 160 249.4 162.2 246 164C242.6 165.8 239 167.3 236 169C233 170.7 230.7 171.7 228 174C225.3 176.3 222.5 179.8 220 183C217.5 186.2 215.2 190.7 213 193C210.8 195.3 208.9 196.7 206.7 196.7C204.5 196.7 202.8 195.8 200 193C197.2 190.2 193.3 183.8 190 180C186.7 176.2 183.3 172.8 180 170C176.7 167.2 173.9 164.4 170 163C166.1 161.6 161.7 161.4 156.7 161.7C151.7 162 143.6 163.3 140 165C136.4 166.7 141.7 169.8 135 172C128.3 174.2 106.8 175.8 100 178C93.2 180.2 97 182.5 94.4 185C91.8 187.5 87.7 190.8 84.3 193C80.9 195.2 78.3 196.5 74.3 198C70.2 199.5 64.5 200.8 60 202C55.5 203.2 50.7 203.7 47 205C43.3 206.3 39.5 191.5 38 210C36.5 228.5 33 296.7 38 316C43 335.3 61.7 324.7 68 326Z"/><path fill="#0082ff" d="M378 272C377.7 269 378.3 265 380 262C381.7 259 385 255.8 388 254C391 252.2 394.6 251 398 251C401.4 251 406.1 252.2 408.5 254C410.9 255.8 411.7 258.7 412.5 262C413.3 265.3 413.9 269.7 413.5 274C413.1 278.3 411.7 284.7 410.3 288C408.9 291.3 407.1 292.5 405.2 294C403.3 295.5 401 296.8 399 297C397 297.2 395 296.5 393 295C391 293.5 388.8 290.5 387 288C385.2 285.5 383.5 282.7 382 280C380.5 277.3 378.3 275 378 272Z"/><path fill="#0082ff" d="M544 85.5C548.3 82.8 557.6 79.8 562 79C566.4 78.2 567.7 78.5 570.3 80.4C572.9 82.3 576.4 87.5 577.4 90.5C578.4 93.5 577.9 95.8 576.4 98.5C574.9 101.2 571.7 104.9 568.3 106.6C564.9 108.3 559.9 108.6 556.2 108.6C552.5 108.6 549 107.3 546 106.6C543 105.9 539.7 106.5 538 104.6C536.3 102.7 535 98.2 536 95C537 91.8 539.7 88.2 544 85.5Z"/><path fill="#0000f0" d="M78 303C85.5 303.5 81.9 303.5 85 303C88.1 302.5 91.4 300 96.7 300C102 300 109.5 302.5 116.7 303C123.9 303.5 132.3 303.2 140 303C147.7 302.8 156.9 302.8 163 301.7C169.1 300.6 173.5 299.1 176.7 296.7C179.9 294.2 181.8 290.9 182 287C182.2 283.1 179.8 278.1 178 273C176.2 267.9 172 262.2 171 256.7C170 251.2 170.5 244.4 172 240C173.5 235.6 176.7 233.3 180 230C183.3 226.7 189.8 223.9 191.7 220C193.6 216.1 192.5 211.2 191.7 206.7C190.9 202.2 189.2 197.8 186.7 193C184.2 188.2 180.6 181.8 176.7 178C172.8 174.2 168.3 171.1 163.3 170C158.3 168.9 151.1 170 146.7 171.7C142.3 173.4 141.1 176.9 136.7 180C132.2 183.1 126.7 187.5 120 190C113.3 192.5 103.3 192.8 96.7 195C90.1 197.2 85.4 200.3 80.3 203C75.2 205.7 70 209.3 66 211C62 212.7 60.3 212.3 56 213C51.7 213.7 42.7 200.5 40 215C37.3 229.5 33.7 285.3 40 300C46.3 314.7 70.5 302.5 78 303Z"/><path fill="#0000f0" d="M193 267C194.1 270.3 194.4 277 196.7 280C199 283 203.7 283.8 207 285C210.3 286.2 214.5 286.3 216.7 287C218.9 287.7 216.9 288.6 220 289.2C223.1 289.8 230 291.3 235 290.8C240 290.3 245.6 288.5 250.2 286.2C254.8 283.9 257.8 280 262.3 277.2C266.8 274.4 271.9 271.4 277.4 269.6C282.9 267.8 290 267.7 295.5 266.6C301 265.5 306.1 264.4 310.6 262.8C315.1 261.2 319.1 258.8 322.6 256.8C326.1 254.8 328.5 252.1 331.7 251C334.9 249.9 337.9 250.5 342 250C346.1 249.5 351.8 249.3 356 248C360.2 246.7 365 244.7 367 242C369 239.3 368.3 235.7 368 232C367.7 228.3 365.5 224.2 365 220C364.5 215.8 367.5 211.2 365 207C362.5 202.8 357.5 201.2 350 195C342.5 188.8 330 177.5 320 170C310 162.5 298.3 152.2 290 150C281.7 147.8 275 154.5 270 156.7C265 158.9 263.3 159.1 260 163C256.7 166.9 253.1 174.4 250 180C246.9 185.6 244.5 195 241.7 196.7C238.9 198.4 235.8 190.6 233 190C230.2 189.4 226.3 190.8 225 193C223.7 195.2 224.2 199.1 225 203C225.8 206.9 230.3 212.8 230 216.7C229.7 220.6 227.8 224.2 223.3 226.7C218.9 229.2 208.3 229 203.3 231.7C198.3 234.4 195.5 238.3 193.3 243C191.1 247.7 190.1 256 190 260C189.9 264 191.9 263.7 193 267Z"/><path fill="#0000f0" d="M203.8 358C203.8 359.7 203.5 361.6 203 363.2C202.4 364.8 201.6 366.3 200.6 367.5C199.6 368.8 198.3 369.8 197 370.5C195.7 371.1 194.2 371.5 192.8 371.5C191.4 371.5 189.9 371.1 188.6 370.5C187.3 369.8 186 368.8 185 367.5C184 366.3 183.2 364.8 182.6 363.2C182.1 361.6 181.8 359.7 181.8 358C181.8 356.3 182.1 354.4 182.6 352.8C183.2 351.2 184 349.7 185 348.5C186 347.2 187.3 346.2 188.6 345.5C189.9 344.9 191.4 344.5 192.8 344.5C194.2 344.5 195.7 344.9 197 345.5C198.3 346.2 199.6 347.2 200.6 348.5C201.6 349.7 202.4 351.2 203 352.8C203.5 354.4 203.8 356.3 203.8 358Z"/><path fill="#00b4b4" d="M215.2 213C215.2 213.4 215.1 213.9 214.9 214.3C214.8 214.8 214.5 215.2 214.2 215.5C213.9 215.8 213.5 216.1 213 216.2C212.6 216.4 212.1 216.5 211.7 216.5C211.3 216.5 210.8 216.4 210.4 216.2C209.9 216.1 209.5 215.8 209.2 215.5C208.9 215.2 208.6 214.8 208.5 214.3C208.3 213.9 208.2 213.4 208.2 213C208.2 212.6 208.3 212.1 208.5 211.7C208.6 211.2 208.9 210.8 209.2 210.5C209.5 210.2 209.9 209.9 210.4 209.8C210.8 209.6 211.3 209.5 211.7 209.5C212.1 209.5 212.6 209.6 213 209.8C213.5 209.9 213.9 210.2 214.2 210.5C214.5 210.8 214.8 211.2 214.9 211.7C215.1 212.1 215.2 212.6 215.2 213Z"/><path fill="#0082ff" d="M118.5 240.4C120 241.1 122.2 243.4 123 246C123.8 248.6 124 252.2 123 256C122 259.8 119.5 265.2 117 269C114.5 272.8 110.7 277.2 108 279C105.3 280.8 102.6 280.5 101 279.5C99.4 278.5 98.5 276.1 98.5 273C98.5 269.9 99.4 265 101 261C102.6 257 105.8 252.2 108 249C110.2 245.8 112.2 243.4 114 242C115.8 240.6 117 239.7 118.5 240.4Z"/><path fill="#ff0000" d="M146.5 398.6C147.2 393 151.8 396.8 154.5 396.6C157.2 396.4 159.9 396.6 162.6 397.6C165.3 398.6 167.2 401.2 170.6 402.6C173.9 404 178.3 405 182.7 405.7C187.1 406.4 191.4 407.5 196.8 406.7C202.2 405.9 210.6 403.6 214.9 400.6C219.2 397.7 221.1 392.6 222.9 389C224.7 385.4 225.1 382.5 225.8 379C226.5 375.5 226.5 371.2 227 368C227.5 364.8 227.8 361.8 228.8 359.5C229.8 357.2 231.2 355.6 233 354.5C234.8 353.4 237.6 352.6 239.6 352.6C241.6 352.6 243.5 353.4 245 354.5C246.5 355.6 247.1 355.8 248.4 359.5C249.7 363.2 252 369.9 253 376.7C254 383.4 253.2 392.8 254.5 400C255.8 407.2 258.2 414.1 260.5 420C262.8 425.9 268.2 430.4 268.5 435.4C268.8 440.4 281.8 450.9 262 450C242.2 449.1 169.2 438.6 150 430C130.8 421.4 145.8 404.2 146.5 398.6Z"/><path fill="#ff0000" d="M283 308C285 306.1 288.9 302.1 292.5 302C296.1 301.9 301.5 305.2 304.5 307.4C307.5 309.6 309.1 312.5 310.6 315C312.1 317.5 311.6 321.5 313.6 322.5C315.6 323.5 317.9 322.6 322.6 321C327.3 319.4 336.3 316.2 341.7 313C347.1 309.8 351.1 304.2 355 301.7C358.9 299.2 361.7 297.4 365 298C368.3 298.6 372.2 301.3 375 305C377.8 308.7 379.5 314.7 381.7 320C383.9 325.3 385.5 331.7 388 336.7C390.5 341.7 395.2 345.8 396.7 350C398.1 354.2 398.1 358.1 396.7 361.7C395.2 365.3 390.3 370 388 371.7C385.7 373.4 385.6 370.8 382.7 372C379.8 373.2 376 378.7 370.6 379C365.2 379.3 356.2 374 350.5 374C344.8 374 340.2 376.7 336.4 379C332.5 381.3 329.4 384.5 327.4 388C325.4 391.5 325 394.6 324.3 400C323.6 405.4 324 415.4 323.3 420.4C322.6 425.4 324.9 428.1 320.3 430C315.8 431.9 300.6 437 296 432C291.4 427 294.2 408.7 293 400C291.8 391.3 290 386.7 289 380C288 373.3 286.8 366.2 287 360C287.2 353.8 290.7 348.6 290 343C289.3 337.4 284.6 331.6 283 326.7C281.4 321.8 280.4 316.5 280.4 313.4C280.4 310.3 281 309.9 283 308Z"/><path fill="#ff0000" d="M603 493C600.8 487.4 600 488.2 596.7 486.7C593.4 485.2 588 483.8 583 484C578 484.2 572.2 485.9 566.7 488C561.2 490.1 555.6 493.6 550 496.7C544.4 499.8 538.5 503.4 533 506.7C527.5 510 521.7 514 516.7 516.7C511.7 519.4 506.3 520.3 503 523C499.7 525.7 498.2 530.2 496.7 533C495.2 535.8 494.1 537.2 494 540C493.9 542.8 494.3 547.3 496 550C497.7 552.7 501.7 556.3 504 556C506.3 555.7 509.7 550.3 510 548C510.3 545.7 504.3 540 506 542C507.7 544 502.7 563.7 520 560C537.3 556.3 596.2 531.2 610 520C623.8 508.8 605.2 498.6 603 493Z"/><path fill="#ff0000" d="M567.2 264.3C567.3 266.1 567.3 268.1 567.1 269.7C566.8 271.4 566.4 273.1 565.8 274.4C565.3 275.7 564.5 276.9 563.7 277.6C562.9 278.4 561.9 278.9 560.9 278.9C560 279 558.9 278.7 558 278.1C557 277.5 556.1 276.5 555.3 275.3C554.5 274.1 553.8 272.6 553.3 270.9C552.8 269.3 552.4 267.4 552.2 265.7C552.1 263.9 552.1 261.9 552.3 260.3C552.6 258.6 553 256.9 553.6 255.6C554.1 254.3 554.9 253.1 555.7 252.4C556.5 251.6 557.5 251.1 558.5 251.1C559.4 251 560.5 251.3 561.4 251.9C562.4 252.5 563.3 253.5 564.1 254.7C564.9 255.9 565.6 257.4 566.1 259.1C566.6 260.7 567 262.6 567.2 264.3Z"/><path fill="#ff0000" d="M611.6 213L618.6 213L618.6 217L611.6 217Z"/></g><g fill="none" stroke="#000" stroke-width="0.9" stroke-dasharray="5 1"><path d="M87.3 289.3L100.4 290.3L106.4 282.3L111.4 279.2L114.5 282.3L122.5 285.3L130.6 283.3L138.6 282.3L144.6 287.3L152.7 290.3L160.7 291.3L168.8 289.3L180.9 289.3L184.9 285.3L193 284.3L203 283L216.7 286.7L226 295.3"/><path d="M226 295.3L227.5 298.3L224.5 310.4L226.8 316.4L223 325.5L226.8 334.5L230.6 340L233 341.7L243 345L256.7 350L270 356.7L280 356.4L288 360.4L294 366.5L300 372.5L306.2 370.5L312.2 372.5L318.2 366.5L322.3 361.4L325.3 350.4L323.3 342.3L328.3 339.3L336.4 342.3L340.4 348.4L346.4 356.4L354.5 360.4L362.5 362.4L368.5 360.4L372.6 354.4L378.6 354.4L382.6 350.4L380.6 344.3L374.6 346.4L368.5 338.3L372.6 335.3L380.6 338.3L384.6 336.3L380.6 330.3L386.7 324.2L389.7 318.2L394.7 314L396.7 306L394.7 298L392.7 290"/><path d="M226 295.3L232 293.8L238 295.3L246.4 295.3L242.6 287.7L249.4 282.5L248.7 277L241.9 268L240.4 259L242.6 254.5L253.2 253L269.8 251.5L288 250.8L301.5 254.5L313.6 263.6L321 268.9L324 262L326 256.6L332 258.6L337 263.6L342 260.6L348 261L353.3 267L358.3 272L364.3 272L370.4 277L378.4 283L384.5 286.3L390 290.3L392.7 290"/><path d="M321 199L319 205L315 212L307 214L299 215L295 218L290 226.6L283 229L276 231L277 240L275 251.8"/><path d="M333 201L335 211L338 221L343 229L342 235L349 234L359 231L365 233L364 239L357 245L361 249.5L369.5 255.5L373.5 261.5L379.5 267.6L383.5 263.6L385.6 260.5L391.6 259.5L397.6 261.5L403.7 257.5L410.7 256.5L411.7 261.5L407.7 267.6L403.7 273.6L403.7 279.6L409.7 285.7L415.7 287.7"/><path d="M380 278.2L386 284.3L390 292.3L388 298.4L394 306.4L396 312.5L392 316.5L388 320.5"/><path d="M416.2 287.3L426.3 286.3L430.3 283.3L432.3 276.2L440.4 272.2L444.4 276.2L450.4 277.2L452.5 282.3L460.5 285.3L468.6 283.3L472.6 276.2L474.6 270.2L482.7 260L492.7 254L500.7 246"/><path d="M452.5 282.3L450.4 290.3L460.5 298.4L468.6 302.4L469.6 310.4L467.5 319.5L458.5 322.5L456.5 326.5L448.4 328.6L442.4 324.5L441.4 318.5L446.4 310.4L444.4 304.4L441.4 298.4L444.4 293.3L450.4 290.3"/><path d="M426.3 298.4L427.3 306.4L429.3 314.5L434.3 320.5L440.4 322.5L440.4 332.6L442.4 338.6L441.4 348.7L434.3 352.7L434.3 360L432.6 352.8L430 361.6L420 363"/><path d="M392 338.6L398 340.6L400 346.7L408.2 346.7L412.2 352.7L413.2 360L418.8 363.5L428.9 361.4L435 360.4"/><path d="M388.7 340.3L394.7 337.3L400.7 344.3L408.8 348.4L412.8 356.4L418.8 363.5"/><path d="M425 290L427 302L429 312L435 318.2L440 320.2"/><path d="M500.7 246L498.7 254L492.7 266L490.7 278.2L493.7 288.3L490.7 298.4L492.7 310.4L491.7 320.5L492.7 330.6L495.5 340.3L500.5 350.3L505.5 357.9L515.6 362.9L525.7 365.4L537 362.9L540.8 370.4L550.8 373L558.4 378L568.4 383L570.9 393L570.9 400.6"/><path d="M492.7 330.6L500.7 328.6L510.8 324.5L520.9 324.5L531 326.5L540 324.5L548.3 319L555.8 310L558.4 306.7"/><path d="M532.2 208L530.2 218L531.2 228L530.2 233L536.2 238L532.2 242L537.2 248.4L536.2 256.4L530.2 264.5L533.2 274.5L536.2 284.6L531.2 296.7L533 306.4L531 316.5L533 324.5"/><path d="M507.5 246L512 236L520 228L526 216L532.2 208L538.2 210L546.3 209L554.3 210L560.4 202L566.4 198L572.5 197L576.5 202L577.5 210L586.5 212L588.5 202L592.6 198L596.6 204L600.6 200L606.7 194L610.4 192.6L620.5 186.5L628.5 180.5L634.6 172.4"/><path d="M586.5 212L588.5 220L594.6 228L599.6 233.3"/><path d="M558.4 224L564.4 228L570.4 227L575.5 234L573.5 240L566.4 242L562.4 248.4L554.3 247.4L548.3 242.3L550.3 234.3L554.3 230L558.4 224"/><path d="M566.4 242L570.4 248.4L577.5 250.4L576.5 256.4L572.5 260.4L568.4 252.4L566.4 242"/><path d="M577.5 260.4L580.5 266.5L570.4 272.5L562.4 280.6L556.4 288.6L552.3 294.7L554.3 300.7L558.4 306.7L555.8 312L562 318L570.9 322.6L581 320L593.6 325.2L601.1 320L606.2 310"/><path d="M570.9 322.6L576 330.2L568.4 332.7L558.4 337.7L555.8 350.3L560.9 360.4L558.4 370.4L558.4 378"/><path d="M593.6 325.2L596.1 335.2L591 342.8L601.1 350.3L606.2 347.8L611.2 357.9L616.2 370.4L611.2 380.5L616.7 373.3L626 378L633.5 383.5"/><path d="M611.2 380.5L613.3 390L603.3 401.7L593.6 398L583.5 400.6L570.9 400.6"/><path d="M616.2 370.4L626 366L636 368L645 372"/><path d="M482.9 352.8L490.4 354L495.5 345"/><path d="M482.9 352.8L484.2 362.9L480.4 373L490.4 380.5L493 386.8"/><path d="M441.4 347.8L450.2 359L462.8 365.4L472.8 370.4L480.4 373"/><path d="M428.3 410L435 401.7L445 400L451.7 406.7L458.3 403.3L465 393.3L470 383.3L465 373.3L478.3 376.7L488.3 383.3L490.4 390"/><path d="M466.5 395.6L470.3 405.7L475.3 410.7L482.9 408.2L490.4 403L498 403L505.5 400.6L515.6 400.6L523.1 405.7"/><path d="M428.3 410L431.7 420L440 423.3L450.2 420.8L455.2 425.8L462.8 418L470.3 425.8L472.8 433L481.7 430"/><path d="M482.9 408.2L480.4 418L482.9 428.3L481.6 440.9L483.3 446.7L480 460L486.7 466.7L493.3 463.3L503.3 463.3L511.7 470L510 483.3L516.7 493.3"/><path d="M523.1 405.7L530.7 408.2L538.2 402L540.8 405.7L545.8 413L550.8 418L549.6 430.8L545.8 440.9L548.3 450L546.7 463.3L551.7 470L553.3 476.7L556.7 486.7L566.7 480L580 476.7L586.7 480L596.7 485L603.3 493.3"/><path d="M553.3 476.7L540 480L530 476.7L523.3 483.3L516.7 493.3L520 506.7L516.7 520L511.7 533"/><path d="M603.3 401.7L610 416.7L606.7 426.7L596.7 430L590 440L586.7 453.3L583.3 466.7L580 476.7"/><path d="M610 416.7L620 426.7L630 428.3L640 430"/><path d="M603.3 401.7L601 403L608.7 410.7"/><path d="M411.7 428.3L421.7 436.7L431.7 440L438.3 430L451.7 420L461.7 423.3L471.7 416.7L478.3 426.7L485 440L480 453.3L488.3 466.7L498.3 463.3"/><path d="M480 460L470 470L456.7 476.7L446.7 480L438.3 490L425 493.3L416.7 490L420 480L418.3 470L415 456.7L405 446.7L406.7 436.7L411.7 428.3"/><path d="M425 493.3L431.7 500L438.3 506.7L437 511"/><path d="M331.7 426.7L341.7 436.7L348.3 430L355 436.7L361.7 443.3L368.3 453.3L375 463.3L380 468.3L388.3 463.3L395 450L401.7 440L411.7 428.3L420 424L428.3 410"/><path d="M322.3 361.4L326 372L334 378L338 390L340 404L338 418L331.7 426.7"/><path d="M585 28.3L588.3 33.3L600 35L606.7 46.7L616.7 46.7L626.7 41.7L633.3 50L636.7 58.3L633.3 70L631.7 83.3L626.7 93.3L619.5 101L610.4 114L618.5 122L622.5 119L624.5 130L632.6 134L638.6 139L648.7 137L658.7 139L666.8 138L670.4 146L680.5 149L684.5 145L692.6 156L698.6 152L706.7 147L712.7 152L720.7 154"/><path d="M610.4 114L608.4 137L610.4 143L613.5 152L618.5 162.4L626.5 158.4L629.6 166.4L634.6 172.4L640.6 174.5L648.7 177.5L652.7 182.5L658.7 188.5L662.8 198.6L667 207.4"/><path d="M540 216.7L548 211.7L556 208.7L562 200.6L570 196.6L576 204.6L577.5 210"/><path d="M598.4 206.7L590.3 198.6L588.3 204.6"/></g><g fill="none" stroke="#2a2ab4" stroke-width="1"><path d="M280 326.2L286 322.2L294 326.2L300 332.3"/><path d="M306.2 320.2L314.2 321.2L324.3 323.2L330.3 324.2L336.4 320.2L340.4 328.2L344.4 336.3L348.4 342.3L356.5 344.3L362.5 344.3L368.5 342.3L374.6 344.3L380.6 348.4L384.6 352.4L388.7 350.4L387.7 344.3L382.6 340.3L376.6 337.3L368.5 338.3L362.5 330.3L359.5 322.2L360.5 316.2L368.5 312L376.6 310L386.7 313L394.7 314L398.7 310L400.7 304L406.2 306.4L410.2 298.4L417.2 292.3L420.3 288.3L430.3 283.3L436.4 278.2L442.4 270L445.4 260L444.4 250L448.4 240L452 236L458 234L466 238L472 241L480 239L488.7 240L500.7 246L498.7 254L492.7 266L490.7 278.2L493.7 288.3L490.7 298.4L492.7 310.4L491.7 320.5L492.7 330.6L503 325L515.6 321.4L525.7 324L538.2 321.4L548.3 319L555.8 310L562.4 302.7L570.4 294.7L578.5 286.6L586.5 278.5L594.6 270.5"/><path d="M239 338.3L239.5 330L241 325L245 325L253 329.5L256 327L262 331L269 329L277 330.5L281 325.5L287.5 323L294 326.2"/><path d="M286 322.2L294 326.2L300 332.3L306.2 338.3L312.2 344.3L318.2 350.4L322.3 358.4L330.3 364.5L334.3 372.5L337.4 380.6L339.4 394L341.4 406.3L339.4 418.4L342.5 430.4L346.5 440.5L350.5 450.6L354.5 444.5L356.5 438.5L358.5 448.5L357.5 460.6L362.6 464.6L370.6 462.6L376.7 460.6L378.7 468.7L386.7 464.6L392.8 460.6L394.8 450.6L398.8 440.5L404.8 432.4L410.9 426.4L419 424.4L431.7 423.3L445 413.3L458.3 403.3L466.5 395.6L477.9 389.3L493 386.8L505.5 389.3L515.6 395.6L523.1 400.6L530.7 408.2L538.2 401.9L545.8 395.6L553.3 390.6L560.9 395.6L570.9 400.6L581 396.9L587.3 388L596.1 375.5L602.4 365.4L608.7 359L615 356L622 360L630 357L638.5 358L648.5 362"/></g><g fill="none" stroke="#000" stroke-width="1" stroke-linejoin="round"><path d="M44 196.7L54 187.7L66 184L73 185L76 189L85 189.7L92 183L106.4 179.6L118.5 180.6L131.6 178L137.6 172.6L138.6 167.5L145 160.5L145 140.4L143 136L146.7 132L163.8 132L168.8 135L172.8 136L171.8 127L180.9 114L186.5 106L193 111L200 112L210.3 113.9L214.7 109.2L217.8 94.6L228.4 92.5L231.4 85L242 85.7L241.5 93.7L246.5 100L248.5 105.8L262.6 111.3L265.6 120.3L269.7 130.4L265.6 141.4L263 150.5L270.7 156.5L284.8 158.5L300.9 166.6L311 174.6L317 186L322 199L350 204L362 205L380.5 206L394.6 212L408.7 218L427.8 220L436.9 214L451 209L475 207L488 198.5L502 184.5L495 177.4L502 164L520.5 168.4L528.5 159L544.6 151L551.7 140L564.8 133L574.8 129L584 129.7L585 126L577 119L564.8 110L555.7 118L548.7 115L540 119L535 113.6L540 100.6L544 85.5L562 80.4L569.3 78.4L568.3 70.4L574.3 53.3L579.4 42.2L578.4 35L572 31L576.4 26L580.4 21L589.4 16L602.5 13L614.6 17L623.6 16L630.7 23L638.7 34L646.8 46L658.9 65L671 64L679 68L689 71L697 83L711.5 84.7L717.5 81L723.5 73L736.6 65.8L738.6 77L735.6 92L736.6 102L733.6 111L733.6 121.5L719.5 122.5L712.5 132.6L717.5 144.6L721.5 152.7L721.8 157L718.7 168L711.7 163.7L708.7 170L702.6 177L694.6 184L694 192L680.5 193L675.5 194L674.5 200L666.4 209.4L658.4 218.5L654 226.5L643 228.5L634 235.6L630 242.6L623 250.7L619 248.7L625 240.6L620 239.6L622 233.6L626 228.5L628 221.5L624 215.5L619 215.5L614 217.5L610 222.5L606 230.5L603.5 234L596.5 240L591.4 247L580.4 250L577 251L577.6 257.5L580 265L585 267L593.3 266.4L595.2 271.4L596.5 277L600.3 280.2L605.3 279.6L608.4 274.5L611 269.5L616.6 267.6L620.4 266.4L626.7 270L635.5 267.6L641 269L641 273.3L638 277L634 277L630.4 280.8L625.4 282.7L621.6 287.7L620.4 291.5L615.3 292.8L614 296.5L610.3 302.8L606.5 309L606 314L610.3 318.5L616.6 321.7L626 332L632.5 342L637.5 349L648.5 358L638.5 358L651.6 364L649.6 372L639.5 381L633.5 383.5L646.5 383.5L654.6 388.5L654.6 396.5L651.6 404.6L653.6 412.6L646.5 418.7L644.6 420L643.6 428L638.6 432L639.6 438L634.6 443L631.6 454L633.6 463L624.5 467L620.5 474L614.5 481L606.4 486L604.4 493.5L598.4 497.5L595.3 505.5L588.3 509.6L574 512.6L568 514.6L565 522.6L558 524.6L556 518.6L552 518.6L551 523.6L544 526.7L540.7 530L532.7 532L524.6 538L514.6 538L506.5 542L503.5 549L508.5 554L503.5 559L497.5 557L495.5 548L493.5 542L494.5 538L486.4 541L480.4 537L472.3 540L458 539L449 533L446 525L449 520L439 518L437 511L435.9 509.4L430.9 513.5L418.8 517.5L410.7 521.5L406.7 520.5L401.7 523.5L397.7 520.5L392.6 525.5L385.6 521.5L381.6 525.5L373.5 527.5L372.5 532.6L374.5 543.6L371.5 545.7L366.5 544.6L363.5 538.6L356.4 539.6L349 538.6L344 531.6L335 528.5L338 521.5L341 517.5L337 514.5L331 507L330 501L326 497L312.5 498L317 493L315 488L316 482L322 478L324 472L329 471L333 460L333 448L331.9 442.5L328.9 434.4L323.9 428.4L317.9 426.4L311.8 436.4L306.8 434.4L300.7 428.4L290.7 428L280.6 432L268.6 436.4L262.5 443.5L251.4 444.5L239.4 442.5L239.4 434.4L235 431.4L232 424.3L218 422L211 418.3L204 419.3L196.5 428.5L193.5 417.5L174.6 417.6L164.6 411.6L158.5 410.6L152.5 406.5L140.4 397.5L136.4 388.4L128.4 384.4L116.3 372.3L103 361.3L98 363.3L88 350L79 344.6L75 338.6L73 326.5L74 316.5L80 319.5L85 317.5L82 302L87 289L81 282L80 270L64 260L59 254L60 246L53 238.4L47 232.4L54 230.4L56 215L53 210L47 207L45 196ZM655.7 463L664.8 461L668.4 468L666.8 480L663.8 496.5L660.8 513.6L654.7 506.5L648.7 500.5L646.3 489.4L649.7 478.4L652.7 469ZM503.5 564.5L512.6 564.5L514.6 568.5L508.5 580.6L500.5 589.7L494.5 594.7L484.4 591.7L480 582.6L480.4 574.6L487.4 567.5L496.5 565.5Z" stroke-width="1.25"/></g><g font-family="'Liberation Sans','Noto Sans CJK SC',sans-serif" font-weight="bold" font-size="10.4" fill="#000" lengthAdjust="spacingAndGlyphs"><text x="212.2" y="168.8" textLength="28.5" lengthAdjust="spacingAndGlyphs">乌鲁木齐</text><text x="225.2" y="396.8" textLength="16.5" lengthAdjust="spacingAndGlyphs">拉萨</text><text x="375.3" y="299.3" textLength="15.2" lengthAdjust="spacingAndGlyphs">西宁</text><text x="401.9" y="309.8" textLength="16.5" lengthAdjust="spacingAndGlyphs">兰州</text><text x="430.7" y="270.9" textLength="14.9" lengthAdjust="spacingAndGlyphs">银川</text><text x="488.9" y="230.3" textLength="29" lengthAdjust="spacingAndGlyphs">呼和浩特</text><text x="509.6" y="279.4" textLength="14.9" lengthAdjust="spacingAndGlyphs">太原</text><text x="527.8" y="272.3" textLength="23" lengthAdjust="spacingAndGlyphs">石家庄</text><text x="551.1" y="239.4" textLength="14.5" lengthAdjust="spacingAndGlyphs">北京</text><text x="564.2" y="250.8" textLength="15.2" lengthAdjust="spacingAndGlyphs">天津</text><text x="566.2" y="289.3" textLength="14.4" lengthAdjust="spacingAndGlyphs">济南</text><text x="527.2" y="324.8" textLength="14.2" lengthAdjust="spacingAndGlyphs">郑州</text><text x="467" y="336.4" textLength="15.3" lengthAdjust="spacingAndGlyphs">西安</text><text x="651.4" y="127.8" textLength="21.3" lengthAdjust="spacingAndGlyphs">哈尔滨</text><text x="644.3" y="159.3" textLength="13.6" lengthAdjust="spacingAndGlyphs">长春</text><text x="630.2" y="198.8" textLength="14.9" lengthAdjust="spacingAndGlyphs">沈阳</text><text x="579.2" y="365.3" textLength="14.6" lengthAdjust="spacingAndGlyphs">合肥</text><text x="599.4" y="359.9" textLength="14.2" lengthAdjust="spacingAndGlyphs">南京</text><text x="651.9" y="369.8" textLength="15.5" lengthAdjust="spacingAndGlyphs">上海</text><text x="538.2" y="390.8" textLength="17.2" lengthAdjust="spacingAndGlyphs">武汉</text><text x="567.2" y="419.4" textLength="15.8" lengthAdjust="spacingAndGlyphs">南昌</text><text x="525.4" y="429.4" textLength="16.8" lengthAdjust="spacingAndGlyphs">长沙</text><text x="618.1" y="453.8" textLength="18.2" lengthAdjust="spacingAndGlyphs">福州</text><text x="653.7" y="462.3" textLength="16.8" lengthAdjust="spacingAndGlyphs">台北</text><text x="538.2" y="509.3" textLength="16.7" lengthAdjust="spacingAndGlyphs">广州</text><text x="438.4" y="459.4" textLength="18" lengthAdjust="spacingAndGlyphs">贵阳</text><text x="463.5" y="519.3" textLength="17.9" lengthAdjust="spacingAndGlyphs">南宁</text><text x="433.4" y="410.8" textLength="18.4" lengthAdjust="spacingAndGlyphs">重庆</text><text x="401.9" y="394.4" textLength="16.7" lengthAdjust="spacingAndGlyphs">成都</text><text x="380.8" y="484.4" textLength="17.1" lengthAdjust="spacingAndGlyphs">昆明</text><text x="506.8" y="560.7" textLength="17.4" lengthAdjust="spacingAndGlyphs">海口</text><text x="536.9" y="539.3" textLength="38.6" lengthAdjust="spacingAndGlyphs">澳门香港</text></g><rect x="224.1" y="169.7" width="2.6" height="2.6" fill="none" stroke="#000" stroke-width="0.9"/><rect x="231.2" y="397.7" width="2.6" height="2.6" fill="none" stroke="#000" stroke-width="0.9"/><rect x="380.7" y="300.2" width="2.6" height="2.6" fill="none" stroke="#000" stroke-width="0.9"/><rect x="408.0" y="310.7" width="2.6" height="2.6" fill="none" stroke="#000" stroke-width="0.9"/><rect x="436.2" y="271.7" width="2.6" height="2.6" fill="none" stroke="#000" stroke-width="0.9"/><rect x="501.0" y="231.2" width="2.6" height="2.6" fill="none" stroke="#000" stroke-width="0.9"/><rect x="514.8" y="280.2" width="2.6" height="2.6" fill="none" stroke="#000" stroke-width="0.9"/><rect x="537.0" y="273.2" width="2.6" height="2.6" fill="none" stroke="#000" stroke-width="0.9"/><rect x="556.2" y="240.2" width="2.6" height="2.6" fill="none" stroke="#000" stroke-width="0.9"/><rect x="569.5" y="251.7" width="2.6" height="2.6" fill="none" stroke="#000" stroke-width="0.9"/><rect x="571.2" y="290.2" width="2.6" height="2.6" fill="none" stroke="#000" stroke-width="0.9"/><rect x="532.2" y="325.7" width="2.6" height="2.6" fill="none" stroke="#000" stroke-width="0.9"/><rect x="472.4" y="337.2" width="2.6" height="2.6" fill="none" stroke="#000" stroke-width="0.9"/><rect x="659.7" y="128.7" width="2.6" height="2.6" fill="none" stroke="#000" stroke-width="0.9"/><rect x="648.7" y="160.2" width="2.6" height="2.6" fill="none" stroke="#000" stroke-width="0.9"/><rect x="635.5" y="199.7" width="2.6" height="2.6" fill="none" stroke="#000" stroke-width="0.9"/><rect x="584.2" y="366.2" width="2.6" height="2.6" fill="none" stroke="#000" stroke-width="0.9"/><rect x="604.2" y="360.7" width="2.6" height="2.6" fill="none" stroke="#000" stroke-width="0.9"/><rect x="544.5" y="391.7" width="2.6" height="2.6" fill="none" stroke="#000" stroke-width="0.9"/><rect x="573.0" y="420.2" width="2.6" height="2.6" fill="none" stroke="#000" stroke-width="0.9"/><rect x="531.4" y="430.2" width="2.6" height="2.6" fill="none" stroke="#000" stroke-width="0.9"/><rect x="625.2" y="454.7" width="2.6" height="2.6" fill="none" stroke="#000" stroke-width="0.9"/><rect x="659.5" y="463.2" width="2.6" height="2.6" fill="none" stroke="#000" stroke-width="0.9"/><rect x="544.5" y="510.2" width="2.6" height="2.6" fill="none" stroke="#000" stroke-width="0.9"/><rect x="445.2" y="460.2" width="2.6" height="2.6" fill="none" stroke="#000" stroke-width="0.9"/><rect x="470.2" y="520.2" width="2.6" height="2.6" fill="none" stroke="#000" stroke-width="0.9"/><rect x="440.2" y="411.7" width="2.6" height="2.6" fill="none" stroke="#000" stroke-width="0.9"/><rect x="407.9" y="395.2" width="2.6" height="2.6" fill="none" stroke="#000" stroke-width="0.9"/><rect x="386.9" y="485.2" width="2.6" height="2.6" fill="none" stroke="#000" stroke-width="0.9"/><rect x="641.5" y="365" width="2.6" height="2.6" fill="none" stroke="#000" stroke-width="0.9"/><g shape-rendering="crispEdges"><rect x="0" y="0" width="795" height="1.2" fill="#000"/><rect x="1" y="0" width="1.3" height="608" fill="#000"/><rect x="1" y="606.3" width="794" height="1.3" fill="#000"/><rect x="793.6" y="0" width="1.4" height="608" fill="#000"/><rect x="8.3" y="0" width="7.5" height="2" fill="#a00000"/><rect x="17.4" y="0" width="9.6" height="2" fill="#a00000"/><rect x="28.0" y="0" width="9.7" height="2" fill="#a00000"/><rect x="48.3" y="0" width="3.7" height="2" fill="#a00000"/><rect x="53.6" y="0" width="2.2" height="2" fill="#a00000"/><rect x="60.4" y="0" width="6.0" height="2" fill="#a00000"/><rect x="71.7" y="0" width="5.3" height="2" fill="#a00000"/><rect x="214" y="3.5" width="344.5" height="80" fill="#fff" stroke="#000" stroke-width="1"/><rect x="4.5" y="411.5" width="159" height="191.5" fill="#fff" stroke="#000" stroke-width="1"/><rect x="17.5" y="446.0" width="49.5" height="15" fill="#0000f0"/><rect x="17.5" y="462.9" width="49.5" height="15" fill="#0082ff"/><rect x="17.5" y="479.9" width="49.5" height="15" fill="#00b4b4"/><rect x="17.5" y="496.9" width="49.5" height="15" fill="#00ffff"/><rect x="17.5" y="513.8" width="49.5" height="15" fill="#c8ffff"/><rect x="17.5" y="530.8" width="49.5" height="15" fill="#ffffc8"/><rect x="17.5" y="547.7" width="49.5" height="15" fill="#ffb482"/><rect x="17.5" y="564.6" width="49.5" height="15" fill="#ff8000"/><rect x="17.5" y="581.6" width="49.5" height="15" fill="#ff0000"/><rect x="680" y="456" width="116" height="152" fill="#fff" stroke="#000" stroke-width="2"/><rect x="736.5" y="586.5" width="60" height="21" fill="#fff" stroke="#000" stroke-width="1"/></g><g fill="none" stroke="#000" stroke-width="1"><path d="M682 457L689 461L690 465L697 466.6L702.5 465L708 468L710.6 472L713.3 469L718.7 470.7L724 466.6L732 464L740 462.6L745.8 460L751 457"/><path d="M702.5 466.6L694.4 470.7L686.2 477.5L683.5 484L689 493.7L697 501.8L705 510L709 520.8L707.9 531.6L699.8 537L690.3 541L687.6 546.5L680.8 550.5"/><path d="M704 483L706 479.5L712 478L718 478.5L719.5 481.5L717 486L712 489L706 488L704 483"/><path d="M705 604.6L708 596.5L713.3 592.5L720 593.8L722.8 587L732 583L740 577.6L748.5 572L759.3 562.7L766 566.8L774 574.9L770 576L767.4 581.6"/><path d="M763.3 550.5L778 537L779 539L765 552L763.3 550.5"/><path d="M786.3 488.3L782.3 495L781 507L785 518L789 526L792 520L790 510L793 500"/><path d="M786 457L789 463L792 466"/><path d="M787 520L790 528L794 525"/><path d="M702.5 500.5L706.5 506"/><path d="M696.2 562.7L696.2 569.5"/><path d="M721.4 585.7L726.8 583"/><path d="M748.5 561.3L753.9 556"/><path d="M770 535.6L774 530"/><path d="M778.2 488.3L779.6 493.7"/><path d="M774.2 504.5L775.5 511.3"/><path d="M786.3 472L790.4 468"/><path d="M670 520.8L676.8 514"/><path d="M690 447L692 444"/><path d="M699 443L700.5 441"/></g><rect x="757.7" y="472.4" width="2" height="2" fill="#000"/><rect x="728.0" y="496.8" width="2" height="2" fill="#000"/><rect x="741.5" y="538.7" width="2" height="2" fill="#000"/><text x="244.5" y="36" font-family="'Liberation Serif','Noto Serif CJK SC',serif" font-weight="bold" font-size="17" fill="#000" textLength="186" lengthAdjust="spacingAndGlyphs">全国降水量距平百分率图</text><text x="446.4" y="36" font-family="'Liberation Serif','Noto Serif CJK SC',serif" font-weight="bold" font-size="17" fill="#000" textLength="34.5" lengthAdjust="spacingAndGlyphs">单位</text><text x="438.5" y="35" font-family="Liberation Serif" font-size="19" fill="#000">(</text><text x="485.5" y="35" font-family="Liberation Serif" font-size="17" fill="#000">:</text><text x="496.5" y="35.5" font-family="Liberation Serif" font-size="16" fill="#000">%</text><text x="512.5" y="35" font-family="Liberation Serif" font-size="19" fill="#000">)</text><text transform="translate(239,64) scale(0.8,1)" font-family="Liberation Serif" font-size="22.3" letter-spacing="6.5" fill="#000">20051120--20060108</text><text x="47.5" y="435.3" font-family="'Liberation Serif','Noto Serif CJK SC',serif" font-weight="bold" font-size="17" fill="#000">图</text><text x="94" y="435.3" font-family="'Liberation Serif','Noto Serif CJK SC',serif" font-weight="bold" font-size="17" fill="#000">例</text><text x="178.7" y="581.2" font-family="'Liberation Sans','Noto Sans CJK SC',sans-serif" font-weight="bold" font-size="15" fill="#000" textLength="75.7" lengthAdjust="spacingAndGlyphs">中国气象局</text><text x="178.7" y="600.7" font-family="'Liberation Sans','Noto Sans CJK SC',sans-serif" font-weight="bold" font-size="15" fill="#000" textLength="92" lengthAdjust="spacingAndGlyphs">国家气候中心</text><text x="743.5" y="600.3" font-family="'Liberation Sans','Noto Sans CJK SC',sans-serif" font-weight="bold" font-size="9.3" fill="#000" textLength="37.5" lengthAdjust="spacingAndGlyphs">南海诸岛</text><g font-family="Liberation Serif" font-weight="bold" font-size="14.6" fill="#000"><text transform="translate(112.5,459.8) scale(0.80,1)" text-anchor="middle" font-weight="normal">></text><text transform="translate(121,459.8) scale(0.66,1)">200</text></g><g font-family="Liberation Serif" font-weight="bold" font-size="14.6" fill="#000"><text transform="translate(103.5,476.8) scale(0.66,1)" text-anchor="end">100</text><text transform="translate(112.5,476.8) scale(0.80,1)" text-anchor="middle" font-weight="normal">~</text><text transform="translate(121,476.8) scale(0.66,1)">200</text></g><g font-family="Liberation Serif" font-weight="bold" font-size="14.6" fill="#000"><text transform="translate(103.5,493.7) scale(0.66,1)" text-anchor="end">50</text><text transform="translate(112.5,493.7) scale(0.80,1)" text-anchor="middle" font-weight="normal">~</text><text transform="translate(121,493.7) scale(0.66,1)">100</text></g><g font-family="Liberation Serif" font-weight="bold" font-size="14.6" fill="#000"><text transform="translate(103.5,510.6) scale(0.66,1)" text-anchor="end">25</text><text transform="translate(112.5,510.6) scale(0.80,1)" text-anchor="middle" font-weight="normal">~</text><text transform="translate(121,510.6) scale(0.66,1)">50</text></g><g font-family="Liberation Serif" font-weight="bold" font-size="14.6" fill="#000"><text transform="translate(103.5,527.6) scale(0.66,1)" text-anchor="end">0</text><text transform="translate(112.5,527.6) scale(0.80,1)" text-anchor="middle" font-weight="normal">~</text><text transform="translate(121,527.6) scale(0.66,1)">25</text></g><g font-family="Liberation Serif" font-weight="bold" font-size="14.6" fill="#000"><text transform="translate(103.5,544.5) scale(0.66,1)" text-anchor="end">−25</text><text transform="translate(112.5,544.5) scale(0.80,1)" text-anchor="middle" font-weight="normal">~</text><text transform="translate(121,544.5) scale(0.66,1)">0</text></g><g font-family="Liberation Serif" font-weight="bold" font-size="14.6" fill="#000"><text transform="translate(103.5,561.5) scale(0.66,1)" text-anchor="end">−50</text><text transform="translate(112.5,561.5) scale(0.80,1)" text-anchor="middle" font-weight="normal">~</text><text transform="translate(121,561.5) scale(0.66,1)">−25</text></g><g font-family="Liberation Serif" font-weight="bold" font-size="14.6" fill="#000"><text transform="translate(103.5,578.5) scale(0.66,1)" text-anchor="end">−80</text><text transform="translate(112.5,578.5) scale(0.80,1)" text-anchor="middle" font-weight="normal">~</text><text transform="translate(121,578.5) scale(0.66,1)">−50</text></g><g font-family="Liberation Serif" font-weight="bold" font-size="14.6" fill="#000"><text transform="translate(112.5,595.4) scale(0.80,1)" text-anchor="middle" font-weight="normal"><</text><text transform="translate(121,595.4) scale(0.66,1)">−80</text></g></svg></body></html>
